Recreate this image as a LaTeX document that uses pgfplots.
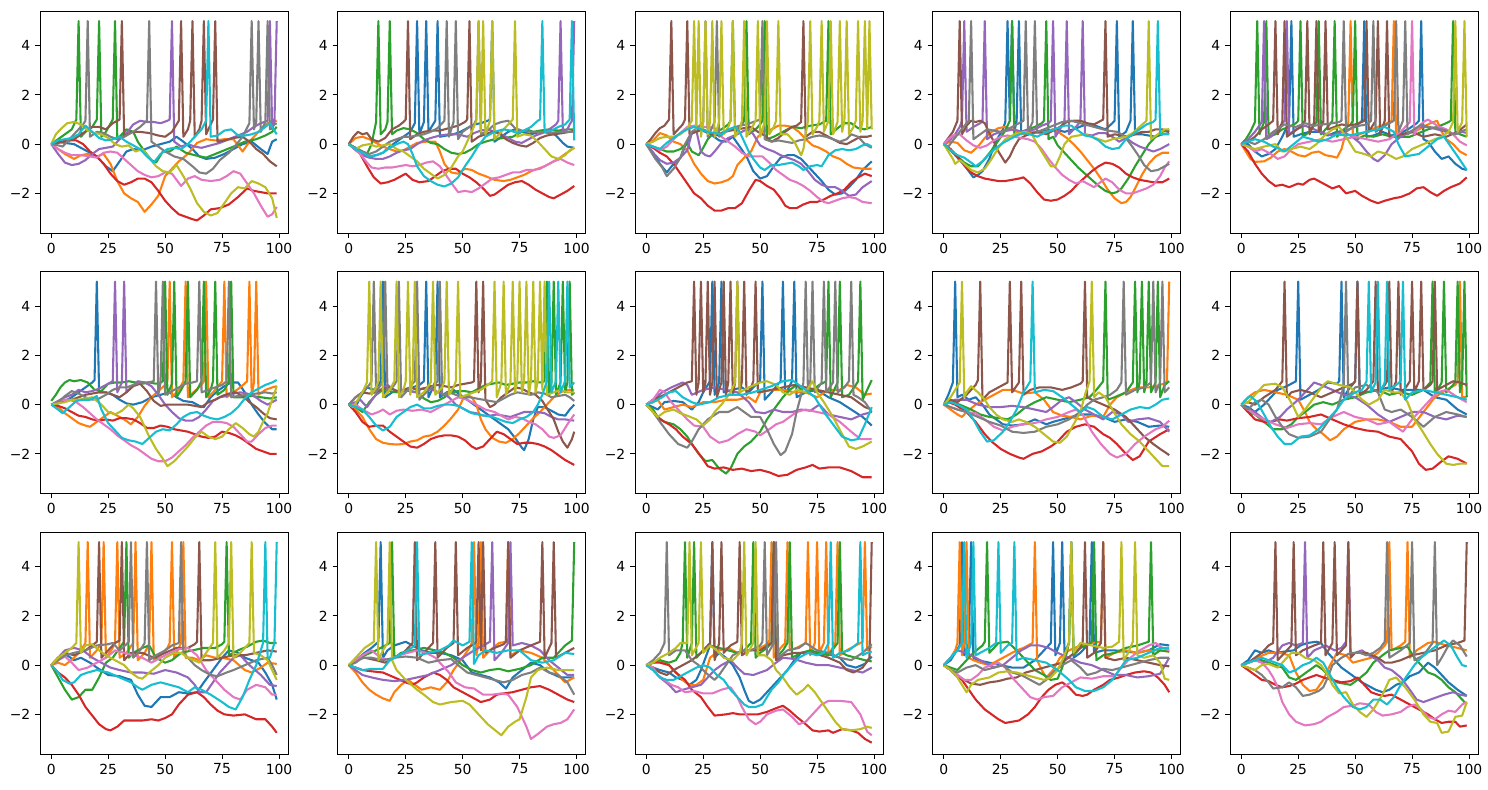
\documentclass[border=0pt]{standalone}
\usepackage{fontspec}
\setmainfont{DejaVu Sans}
\usepackage{pgfplots}
\pgfplotsset{compat=1.18}

\definecolor{C0}{HTML}{1F77B4}
\definecolor{C1}{HTML}{FF7F0E}
\definecolor{C2}{HTML}{2CA02C}
\definecolor{C3}{HTML}{D62728}
\definecolor{C4}{HTML}{9467BD}
\definecolor{C5}{HTML}{8C564B}
\definecolor{C6}{HTML}{E377C2}
\definecolor{C7}{HTML}{7F7F7F}
\definecolor{C8}{HTML}{BCBD22}
\definecolor{C9}{HTML}{17BECF}

\pgfplotsset{
  panel/.style={
    anchor=north west,
    scale only axis,
    width=178.56pt, height=159.84pt,
    xmin=-4.95, xmax=103.95, ymin=-3.61, ymax=5.41,
    xtick={0,25,50,75,100}, xticklabels={0,25,50,75,100},
    ytick={-2,0,2,4}, yticklabels={−2,0,2,4},
    tick align=outside, tick pos=left,
    major tick length=3.5pt,
    tick style={black, line width=0.6pt},
    axis line style={black, line width=0.55pt},
    tick label style={font=\fontsize{10}{12}\selectfont},
    every axis plot/.append style={line width=1.5pt, line join=round, mark=none},
  }
}

\begin{document}
\begin{tikzpicture}
\useasboundingbox (0,0) rectangle (1071.36pt,568.8pt);

% ---------------- row 1, panel 1 ----------------
\begin{axis}[panel, at={(28.8pt,560.88pt)}]
\addplot[C0] coordinates {(0,0)(3,0.1)(6,0.05)(10,0)(14,-0.2)(18,-0.4)(21,-0.6)(24,-0.9)(27,-1.1)(30,-0.7)(33,-0.3)(36,-0.2)(40,-0.25)(44,-0.1)(48,0)(52,0.1)(55,0.3)(58,0.1)(62,-0.2)(65,-0.5)(68,-0.6)(72,-0.55)(76,-0.4)(80,-0.2)(84,0)(88,0.1)(92,-0.2)(95,-0.4)(97,0.1)(99,0.2)};
\addplot[C1] coordinates {(0,0)(3,-0.2)(6,-0.4)(10,-0.6)(13,-0.45)(16,-0.4)(20,-0.5)(23,-0.4)(26,-0.8)(29,-1.5)(32,-2.0)(35,-2.2)(38,-2.35)(41,-2.75)(44,-2.45)(47,-2.1)(50,-1.3)(53,-1.0)(56,-0.7)(60,-0.4)(64,0.05)(68,0.2)(72,0.15)(76,0.2)(80,0.2)(84,-0.3)(87,0.1)(91,0.5)(95,0.85)(99,0.95)};
\addplot[C2] coordinates {(0,0)(3,0.2)(6,0.4)(9,0.6)(11,1.0)(12,5)(13,0.3)(15,0.5)(18,0.7)(20,1.0)(21,5)(22,0.3)(24,0.5)(27,1.0)(28,5)(29,0.2)(31,0.4)(33,0.6)(36,0.5)(38,0.1)(41,-0.3)(44,-0.65)(46,-0.75)(49,-0.3)(52,-0.3)(55,-0.1)(59,-0.35)(63,-0.45)(68,-0.55)(72,-0.4)(76,-0.25)(80,-0.1)(85,0.1)(90,0.2)(94,0.35)(97,0.5)(99,0.7)};
\addplot[C3] coordinates {(0,0)(4,0.1)(8,0.15)(11,0.15)(14,0)(17,-0.3)(20,-0.5)(23,-0.8)(26,-1.2)(29,-1.5)(32,-1.65)(35,-1.55)(38,-1.4)(41,-1.4)(44,-1.55)(47,-1.9)(50,-2.3)(53,-2.6)(56,-2.85)(59,-2.95)(62,-3.05)(64,-3.1)(67,-2.9)(70,-2.65)(74,-2.6)(78,-2.45)(82,-2.15)(86,-1.8)(89,-1.9)(92,-1.95)(95,-2.0)(99,-2.0)};
\addplot[C4] coordinates {(0,0)(3,-0.4)(6,-0.75)(9,-0.85)(12,-0.8)(15,-0.65)(18,-0.4)(21,-0.2)(24,-0.15)(27,-0.1)(30,0.2)(33,0.45)(36,0.8)(39,0.95)(42,0.9)(45,0.9)(48,0.85)(51,0.95)(52,1.0)(53,5)(54,0.1)(57,-0.1)(60,0)(63,-0.1)(66,-0.15)(70,-0.05)(74,0.05)(78,0.2)(82,0.35)(86,0.5)(89,0.7)(92,0.85)(95,0.95)(96,5)(97,0.6)(98,0.9)(99,5)};
\addplot[C5] coordinates {(0,0)(3,0.05)(6,0.1)(10,0.2)(14,0.45)(18,0.7)(21,0.7)(24,0.6)(27,0.85)(30,1.0)(31,5)(32,0.3)(35,0.5)(39,0.5)(43,0.45)(47,0.35)(50,0.3)(53,0.5)(56,0.95)(57,5)(58,0.3)(60,0.6)(61,0.95)(62,5)(63,0.3)(65,0.6)(66,0.95)(67,5)(68,0.4)(70,0.8)(71,1.0)(72,5)(73,0.1)(76,0.15)(80,0.25)(84,0.3)(87,0.1)(90,-0.2)(93,-0.4)(96,-0.7)(99,-0.9)};
\addplot[C6] coordinates {(0,0)(3,-0.2)(6,-0.35)(9,-0.45)(13,-0.45)(17,-0.5)(20,-0.55)(23,-0.35)(26,-0.3)(29,-0.35)(32,-0.6)(35,-0.85)(38,-1.1)(41,-1.25)(44,-1.35)(47,-1.3)(50,-1.15)(53,-1.2)(55,-1.45)(57,-1.7)(60,-1.4)(63,-1.3)(66,-1.45)(70,-1.5)(74,-1.45)(77,-1.3)(80,-1.1)(83,-1.2)(86,-1.6)(89,-2.0)(92,-2.5)(95,-2.95)(97,-2.85)(99,-2.55)};
\addplot[C7] coordinates {(0,0)(3,-0.05)(5,-0.1)(8,0.2)(11,0.5)(14,0.8)(15,0.95)(16,5)(17,0.3)(20,0.5)(23,0.45)(26,0.3)(29,0.2)(32,0.3)(36,0.5)(39,0.7)(42,0.95)(43,5)(44,0.1)(47,-0.1)(50,-0.3)(54,-0.5)(58,-0.6)(62,-0.9)(65,-1.15)(68,-1.2)(71,-1.0)(74,-0.65)(78,-0.35)(81,-0.05)(84,0.3)(87,0.85)(88,5)(89,0.6)(90,0.9)(91,5)(92,0.5)(94,0.9)(95,5)(96,0.6)(98,0.8)(99,0.85)};
\addplot[C8] coordinates {(0,0)(2,0.4)(4,0.6)(7,0.85)(10,0.9)(13,0.8)(16,0.55)(19,0.45)(22,0.4)(25,0.25)(28,0)(31,-0.1)(34,-0.05)(37,-0.3)(40,-0.2)(43,-0.55)(46,-0.9)(49,-1.1)(52,-1.15)(55,-0.85)(58,-1.3)(61,-1.8)(64,-2.4)(67,-2.75)(70,-2.9)(73,-2.8)(76,-2.4)(79,-2.0)(82,-1.75)(85,-1.8)(88,-1.5)(91,-1.6)(94,-1.75)(97,-2.2)(99,-3.0)};
\addplot[C9] coordinates {(0,0)(3,0.15)(6,0.2)(9,0.25)(12,0.4)(15,0.75)(18,0.5)(21,0.25)(24,0.15)(27,0.2)(30,0.3)(33,0.1)(36,-0.05)(39,-0.2)(42,-0.5)(45,-0.75)(48,-0.4)(51,-0.2)(54,-0.15)(57,-0.2)(60,0)(63,0.3)(66,0.6)(68,0.95)(69,5)(70,0.3)(73,0.35)(76,0.55)(79,0.6)(82,0.35)(85,0.35)(88,0.4)(91,0.5)(94,0.7)(96,0.85)(99,0.4)};
\end{axis}

% ---------------- row 1, panel 2 ----------------
\begin{axis}[panel, at={(243pt,560.88pt)}]
\addplot[C0] coordinates {(0,0)(3,-0.2)(6,-0.35)(9,-0.5)(12,-0.45)(15,-0.35)(18,-0.1)(21,0.1)(24,0.3)(27,0.5)(29,0.85)(30,5)(31,0.4)(33,0.9)(34,5)(35,0.5)(37,0.8)(38,0.95)(39,5)(40,0.3)(43,0.35)(46,0.4)(49,0.5)(52,0.65)(55,0.8)(58,0.85)(61,0.95)(62,1.0)(63,5)(64,0.1)(67,0.3)(70,0.5)(73,0.6)(76,0.5)(80,0.4)(84,0.5)(88,0.5)(91,0.35)(94,0.05)(96,-0.1)(99,-0.15)};
\addplot[C1] coordinates {(0,0)(3,0.25)(6,0.3)(9,0.2)(12,0.05)(15,-0.1)(18,-0.2)(21,-0.3)(24,-0.25)(27,-0.1)(30,0.05)(34,0.1)(38,0.1)(40,-0.3)(42,-0.8)(45,-1.15)(48,-1.2)(51,-1.0)(54,-1.05)(57,-1.2)(60,-1.3)(64,-1.45)(68,-1.5)(71,-1.45)(74,-1.35)(77,-1.25)(80,-1.1)(83,-1.0)(86,-0.9)(89,-0.75)(92,-0.6)(95,-0.4)(99,-0.15)};
\addplot[C2] coordinates {(0,0)(3,-0.15)(6,-0.3)(8,-0.4)(10,0)(12,0.9)(13,5)(14,0.4)(16,0.6)(17,0.9)(18,5)(19,0.4)(21,0.55)(24,0.65)(27,0.6)(30,0.45)(33,0.2)(36,0.05)(39,0)(42,-0.2)(45,-0.35)(48,-0.4)(51,-0.35)(54,-0.2)(57,0)(60,0.1)(64,0.2)(68,0.25)(72,0.3)(75,0.45)(78,0.6)(81,0.5)(84,0.55)(88,0.6)(92,0.55)(96,0.6)(99,0.6)};
\addplot[C3] coordinates {(0,0)(3,-0.2)(5,-0.4)(8,-0.9)(11,-1.35)(14,-1.6)(17,-1.55)(20,-1.45)(23,-1.3)(25,-1.2)(28,-1.45)(31,-1.55)(35,-1.5)(38,-1.3)(41,-1.1)(44,-1.0)(47,-1.0)(50,-1.2)(53,-1.35)(56,-1.55)(59,-1.8)(62,-2.1)(64,-2.05)(67,-1.85)(70,-1.65)(73,-1.55)(76,-1.5)(79,-1.65)(82,-1.85)(85,-2.0)(88,-2.15)(90,-2.2)(93,-2.05)(96,-1.9)(99,-1.7)};
\addplot[C4] coordinates {(0,0)(3,-0.25)(6,-0.45)(9,-0.55)(12,-0.6)(15,-0.6)(18,-0.5)(21,-0.35)(24,-0.25)(27,-0.2)(30,0)(33,0.15)(36,0.25)(40,0.35)(44,0.4)(48,0.4)(52,0.3)(55,0.45)(58,0.55)(61,0.6)(64,0.5)(67,0.4)(70,0.25)(73,0.1)(76,0.05)(79,0.2)(82,0.35)(85,0.45)(88,0.6)(91,0.8)(92,0.95)(93,5)(94,0.5)(96,0.6)(97,0.8)(98,0.95)(99,5)};
\addplot[C5] coordinates {(0,0)(2,0.3)(4,0.5)(6,0.4)(8,0.45)(10,0.2)(13,0.1)(16,0.25)(19,0.6)(22,0.75)(24,0.9)(25,1.0)(26,5)(27,0.2)(30,0.4)(33,0.5)(36,0.55)(40,0.55)(44,0.65)(48,0.75)(51,0.9)(52,1.0)(53,5)(54,0.1)(57,0.3)(60,0.4)(63,0.5)(66,0.45)(69,0.2)(72,0.05)(75,-0.05)(78,-0.1)(81,0.05)(84,0.25)(87,0.35)(90,0.4)(94,0.45)(97,0.5)(99,0.55)};
\addplot[C6] coordinates {(0,0)(3,-0.2)(5,-0.4)(8,-0.75)(10,-0.95)(13,-1.0)(16,-0.95)(19,-0.95)(22,-0.9)(25,-0.85)(28,-0.9)(31,-0.85)(34,-0.75)(37,-0.7)(40,-0.9)(43,-1.3)(46,-1.7)(48,-1.95)(51,-1.9)(54,-1.95)(57,-1.8)(60,-1.6)(63,-1.4)(66,-1.35)(69,-1.25)(72,-1.15)(75,-1.15)(78,-1.05)(81,-1.05)(84,-1.0)(87,-0.85)(90,-0.7)(93,-0.6)(96,-0.75)(99,-0.85)};
\addplot[C7] coordinates {(0,0)(3,-0.15)(6,-0.3)(9,-0.4)(12,-0.3)(15,-0.1)(18,0.1)(21,0.2)(24,0.3)(27,0.3)(30,0.35)(33,0.4)(36,0.5)(39,0.65)(42,0.95)(43,5)(44,0.3)(46,0.9)(47,5)(48,0.2)(50,0.5)(53,0.7)(55,0.8)(56,1.0)(57,5)(58,0.4)(61,0.55)(64,0.8)(67,0.9)(70,0.95)(73,0.65)(76,0.55)(80,0.5)(84,0.5)(88,0.45)(92,0.5)(96,0.5)(99,0.5)};
\addplot[C8] coordinates {(0,0)(3,-0.2)(6,-0.05)(9,0)(12,-0.1)(15,-0.05)(18,0)(21,-0.2)(24,-0.3)(27,-0.5)(30,-0.7)(33,-1.0)(36,-1.2)(39,-1.4)(42,-1.25)(45,-0.95)(48,-0.5)(50,-0.3)(52,0.1)(54,0.5)(56,0.95)(57,5)(58,0.5)(59,5)(60,0.4)(62,0.95)(63,5)(64,0.2)(66,0.4)(69,0.7)(72,1.0)(73,5)(74,0.3)(77,0.4)(80,0.35)(83,0.1)(86,-0.2)(89,-0.5)(92,-0.6)(95,-0.45)(97,-0.25)(99,-0.15)};
\addplot[C9] coordinates {(0,0)(3,-0.2)(6,-0.35)(9,-0.5)(12,-0.45)(15,-0.35)(18,-0.15)(21,0)(24,0.1)(26,0)(28,-0.4)(30,-0.9)(33,-1.3)(36,-1.5)(39,-1.65)(42,-1.72)(45,-1.6)(48,-1.35)(51,-0.9)(54,-0.5)(57,-0.05)(60,0.3)(64,0.5)(68,0.6)(71,0.55)(74,0.45)(77,0.55)(80,0.7)(83,0.95)(84,1.0)(85,5)(86,0.5)(89,0.55)(92,0.7)(95,0.8)(97,1.0)(98,5)(99,0.15)};
\end{axis}

% ---------------- row 1, panel 3 ----------------
\begin{axis}[panel, at={(457.2pt,560.88pt)}]
\addplot[C0] coordinates {(0,0)(3,-0.35)(6,-0.8)(9,-1.15)(12,-0.8)(15,-0.55)(17,-0.1)(20,0.45)(23,0.6)(26,0.5)(29,0.35)(32,0.15)(35,0.1)(38,0.3)(41,-0.1)(44,-0.5)(47,-1.1)(50,-1.4)(53,-1.3)(56,-0.9)(59,-0.55)(62,-0.45)(65,-0.45)(68,-0.6)(71,-0.9)(74,-1.2)(77,-1.5)(80,-1.85)(83,-2.05)(86,-2.0)(89,-1.75)(92,-1.45)(95,-1.05)(99,-0.7)};
\addplot[C1] coordinates {(0,0)(3,0.15)(6,0.45)(9,0.35)(12,0.1)(15,0)(18,-0.25)(21,-0.8)(24,-1.2)(27,-1.5)(30,-1.6)(33,-1.55)(36,-1.45)(38,-1.3)(40,-0.85)(43,-0.55)(46,-0.3)(49,0.3)(52,0.55)(55,0.6)(58,0.75)(61,0.75)(64,0.7)(67,0.5)(70,0.2)(73,-0.05)(76,-0.15)(79,-0.3)(82,-0.5)(85,-0.6)(88,-0.8)(91,-0.95)(95,-1.0)(99,-1.0)};
\addplot[C2] coordinates {(0,0)(3,-0.1)(6,-0.2)(9,-0.3)(12,-0.3)(15,-0.2)(18,0.05)(20,-0.3)(23,-0.45)(25,-0.15)(27,0.2)(30,0.5)(33,0.6)(36,0.8)(37,0.95)(38,5)(39,0.5)(42,0.8)(43,0.95)(44,5)(45,0.4)(48,0.6)(50,0.8)(51,0.95)(52,5)(53,0.2)(56,0.3)(60,0.5)(64,0.7)(68,0.65)(72,0.75)(76,0.8)(79,0.95)(80,5)(81,0.4)(84,0.65)(87,0.85)(90,0.85)(93,0.65)(96,0.6)(99,0.7)};
\addplot[C3] coordinates {(0,0)(3,-0.15)(6,-0.35)(9,-0.5)(12,-0.8)(15,-1.2)(18,-1.6)(21,-2.0)(24,-2.2)(27,-2.5)(30,-2.7)(33,-2.7)(36,-2.6)(39,-2.6)(42,-2.4)(45,-1.9)(48,-1.45)(50,-1.5)(53,-1.7)(56,-1.85)(59,-2.2)(61,-2.5)(63,-2.6)(66,-2.6)(69,-2.45)(72,-2.35)(75,-2.35)(78,-2.25)(81,-2.1)(84,-2.0)(87,-1.85)(90,-1.55)(93,-1.35)(96,-1.2)(99,-1.3)};
\addplot[C4] coordinates {(0,0)(3,-0.35)(6,-0.65)(9,-0.8)(12,-0.75)(15,-0.55)(18,-0.25)(20,0.45)(22,0.55)(24,-0.3)(26,-0.45)(28,-0.5)(30,-0.3)(33,0.05)(36,0.25)(40,0.4)(43,0.55)(45,0.6)(47,0.4)(50,-0.05)(53,-0.2)(56,-0.3)(59,-0.45)(62,-0.55)(65,-0.65)(68,-0.8)(71,-1.1)(74,-1.45)(77,-1.65)(80,-1.75)(83,-1.75)(86,-1.9)(89,-2.1)(92,-2.05)(95,-1.75)(99,-1.5)};
\addplot[C5] coordinates {(0,0)(2,0.2)(4,0.45)(6,0.65)(8,0.75)(10,1.0)(11,5)(12,0.4)(14,0.6)(16,0.8)(17,1.0)(18,5)(19,0.4)(22,0.5)(25,0.6)(28,0.45)(31,0.35)(34,0.5)(37,0.55)(40,0.6)(43,0.65)(46,0.7)(49,0.5)(52,0.35)(55,0.1)(58,0.25)(61,0.5)(64,0.7)(66,0.75)(68,0.9)(69,5)(70,0.3)(73,0.5)(76,0.5)(79,0.35)(82,0.2)(85,0.05)(88,0)(91,0.15)(94,0.3)(97,0.3)(99,0.35)};
\addplot[C6] coordinates {(0,0)(3,-0.1)(6,-0.25)(9,-0.1)(12,0.2)(15,0.45)(18,0.7)(21,0.75)(24,0.7)(27,0.7)(30,0.65)(33,0.3)(36,0.1)(39,-0.1)(42,-0.35)(45,-0.5)(48,-0.5)(51,-0.5)(54,-0.75)(57,-1.05)(60,-1.25)(63,-1.45)(66,-1.55)(69,-1.7)(72,-1.9)(75,-2.15)(78,-2.35)(80,-2.4)(83,-2.3)(86,-2.2)(89,-2.15)(92,-2.2)(95,-2.35)(99,-2.4)};
\addplot[C7] coordinates {(0,0)(2,-0.3)(4,-0.6)(7,-0.95)(9,-1.3)(12,-1.0)(15,-0.55)(17,0)(20,0.5)(23,0.7)(25,0.9)(26,5)(27,0.3)(29,0.7)(30,0.9)(31,5)(32,0.3)(35,0.5)(38,0.65)(41,0.75)(44,0.8)(47,0.9)(50,1.0)(51,5)(52,0.2)(55,0.1)(58,0.15)(61,0.1)(64,0.05)(67,0.15)(70,0.2)(73,0.3)(76,0.35)(79,0.3)(82,0.2)(85,0.1)(88,0.2)(90,0.4)(93,0.3)(96,0)(99,-0.15)};
\addplot[C8] coordinates {(0,0)(3,0.1)(6,0.25)(9,0.3)(12,0.3)(15,0.4)(18,0.65)(20,0.95)(21,5)(22,0.6)(23,5)(24,0.3)(25,0.9)(26,5)(27,0.4)(28,0.9)(29,5)(30,0.3)(32,0.9)(33,5)(34,0.4)(36,0.7)(37,0.95)(38,5)(39,0.3)(41,0.6)(42,0.95)(43,5)(44,0.3)(46,0.6)(48,0.95)(49,5)(50,0.3)(52,0.9)(53,5)(54,0.4)(56,0.7)(57,0.95)(58,5)(59,0.4)(62,0.4)(65,0.1)(68,-0.45)(69,-0.2)(70,0.4)(71,0.95)(72,5)(73,0.4)(75,0.7)(76,0.95)(77,5)(78,0.5)(80,0.95)(81,5)(82,0.4)(84,0.9)(85,5)(86,0.5)(87,0.95)(88,5)(89,0.4)(91,0.7)(92,0.95)(93,5)(94,0.5)(95,0.95)(96,5)(97,0.6)(98,5)(99,0.6)};
\addplot[C9] coordinates {(0,0)(3,-0.1)(6,-0.2)(9,0.05)(12,0.25)(15,0.45)(18,0.6)(21,0.7)(24,0.6)(27,0.5)(30,0.45)(33,0.4)(36,0.6)(39,0.7)(41,0.5)(43,0.1)(45,-0.3)(47,-0.6)(50,-0.95)(52,-1.05)(55,-0.85)(58,-0.85)(61,-0.8)(64,-0.75)(67,-0.9)(69,-1.05)(72,-0.9)(75,-0.85)(77,-0.9)(80,-0.45)(83,-0.25)(86,-0.2)(89,-0.25)(92,-0.2)(95,-0.05)(97,0)(99,-0.1)};
\end{axis}

% ---------------- row 1, panel 4 ----------------
\begin{axis}[panel, at={(671.4pt,560.88pt)}]
\addplot[C0] coordinates {(0,0)(3,-0.25)(6,-0.55)(8,-0.75)(11,-1.1)(13,-1.35)(15,-1.25)(17,-1.1)(20,-0.6)(22,-0.1)(24,0.3)(26,0.6)(27,0.9)(28,5)(29,0.95)(30,5)(31,0.5)(32,0.95)(33,5)(34,0.4)(37,0.5)(41,0.5)(45,0.55)(49,0.6)(53,0.5)(57,0.6)(61,0.75)(65,0.8)(68,0.7)(71,0.6)(74,0.85)(75,0.95)(76,5)(77,0.3)(80,0.5)(82,0.95)(83,5)(84,0.4)(87,0.4)(90,0.35)(93,0.3)(96,0.4)(99,0.45)};
\addplot[C1] coordinates {(0,0)(3,0.1)(6,0.05)(9,-0.25)(12,-0.35)(15,-0.1)(18,0.25)(21,0.5)(24,0.65)(27,0.7)(30,0.6)(33,0.45)(36,0.4)(39,0.5)(42,0.45)(45,0.5)(48,0.6)(51,0.45)(54,0.25)(57,0)(60,-0.3)(63,-0.65)(66,-1.0)(69,-1.4)(72,-1.85)(75,-2.2)(78,-2.4)(80,-2.35)(82,-2.15)(84,-1.8)(87,-1.25)(90,-0.8)(93,-0.5)(96,-0.35)(99,-0.35)};
\addplot[C2] coordinates {(0,0)(3,-0.25)(6,-0.5)(9,-0.75)(12,-0.9)(15,-0.9)(18,-0.6)(21,-0.25)(24,0.15)(27,0.55)(29,0.95)(30,5)(31,0.3)(34,0.5)(37,0.6)(40,0.7)(43,0.85)(44,0.95)(45,5)(46,0.2)(48,0.3)(50,-0.05)(53,-0.35)(56,-0.65)(59,-0.95)(62,-1.2)(65,-1.45)(68,-1.7)(71,-1.9)(74,-2.0)(76,-1.95)(78,-1.8)(81,-1.4)(84,-0.9)(87,-0.45)(90,0)(93,0.3)(96,0.5)(99,0.6)};
\addplot[C3] coordinates {(0,0)(3,-0.2)(6,-0.5)(9,-0.85)(12,-1.15)(15,-1.3)(18,-1.4)(21,-1.45)(24,-1.5)(27,-1.5)(30,-1.45)(33,-1.4)(35,-1.35)(38,-1.6)(41,-1.95)(44,-2.25)(47,-2.3)(50,-2.25)(53,-2.1)(56,-1.9)(59,-1.6)(62,-1.35)(65,-1.1)(68,-0.9)(71,-0.75)(74,-0.8)(77,-0.95)(80,-1.2)(83,-1.35)(86,-1.45)(89,-1.5)(92,-1.55)(96,-1.55)(99,-1.4)};
\addplot[C4] coordinates {(0,0)(3,0.2)(5,0.4)(7,0.7)(8,0.95)(9,5)(10,0.5)(13,0.7)(16,0.85)(17,0.95)(18,5)(19,0.2)(22,0.4)(25,0.5)(28,0.55)(31,0.6)(34,0.5)(37,0.55)(40,0.6)(43,0.75)(46,0.85)(47,0.95)(48,5)(49,0.3)(51,0.6)(53,0.95)(54,5)(55,0.4)(57,0.6)(59,0.8)(60,0.95)(61,5)(62,0.4)(65,0.35)(68,0.45)(71,0.45)(74,0.3)(77,0.1)(80,0.25)(83,0.05)(86,-0.1)(89,-0.2)(92,-0.3)(95,-0.2)(99,0)};
\addplot[C5] coordinates {(0,0)(2,0.25)(4,0.5)(6,0.95)(7,5)(8,0.4)(10,0.75)(12,0.95)(14,0.9)(16,0.95)(18,0.85)(20,0.45)(22,0.1)(24,-0.3)(26,-0.6)(27,-0.75)(29,-0.5)(31,-0.1)(33,0.2)(36,0.35)(39,0.45)(42,0.5)(45,0.4)(48,0.55)(51,0.7)(54,0.9)(57,0.95)(60,0.95)(63,0.85)(66,0.8)(68,0.9)(70,1.0)(71,5)(72,0.3)(75,0.4)(78,0.35)(81,0.3)(84,0.4)(87,0.5)(90,0.5)(93,0.6)(96,0.6)(99,0.5)};
\addplot[C6] coordinates {(0,0)(2,0.2)(4,0.35)(7,0.4)(10,0.15)(13,-0.05)(16,-0.15)(19,-0.05)(22,0.15)(25,0.3)(28,0.35)(31,0.3)(34,0.25)(37,0.2)(40,0.1)(43,-0.2)(46,-0.6)(49,-0.95)(52,-1.25)(55,-1.45)(58,-1.6)(61,-1.5)(64,-1.65)(66,-1.75)(68,-1.6)(71,-1.4)(74,-1.55)(77,-1.85)(80,-2.0)(83,-2.0)(86,-1.9)(89,-1.8)(92,-1.65)(95,-1.3)(97,-0.95)(99,-0.7)};
\addplot[C7] coordinates {(0,0)(2,-0.1)(4,0.15)(7,0.5)(10,0.85)(11,0.95)(12,5)(13,0.2)(16,0.4)(19,0.6)(22,0.55)(25,0.5)(28,0.6)(31,0.75)(34,0.9)(35,0.95)(36,5)(37,0.5)(39,0.9)(40,5)(41,0.5)(44,0.6)(48,0.75)(52,0.9)(56,0.95)(60,0.85)(64,0.75)(68,0.65)(72,0.55)(76,0.5)(79,0.35)(82,0)(85,-0.4)(88,-0.85)(91,-1.1)(94,-1.05)(97,-0.9)(99,-0.8)};
\addplot[C8] coordinates {(0,0)(2,-0.3)(4,-0.6)(5,-0.8)(7,-0.65)(9,-0.8)(12,-1.05)(15,-1.15)(18,-1.0)(21,-0.6)(24,-0.15)(27,0.2)(30,0.35)(33,0.45)(36,0.5)(39,0.35)(41,0)(44,-0.45)(47,-0.9)(49,-0.9)(51,-0.5)(53,0)(56,0.3)(59,0.35)(62,0.4)(65,0.3)(68,0.2)(71,0.1)(74,0.2)(77,0.25)(80,0.3)(83,0.45)(86,0.7)(89,0.95)(90,5)(91,0.2)(94,0.4)(97,0.6)(99,0.6)};
\addplot[C9] coordinates {(0,0)(3,-0.25)(6,-0.45)(9,-0.55)(12,-0.75)(14,-0.9)(17,-0.7)(20,-0.4)(23,-0.15)(26,0.05)(29,0.2)(32,0.35)(35,0.45)(38,0.4)(41,0.3)(44,0.45)(47,0.55)(50,0.65)(53,0.75)(56,0.75)(59,0.55)(62,0.35)(65,0.3)(68,0.15)(71,-0.1)(74,-0.2)(77,-0.15)(80,0.2)(83,0.4)(86,0.6)(89,0.8)(92,0.9)(93,1.0)(94,5)(95,0.4)(97,0.4)(99,0.4)};
\end{axis}

% ---------------- row 1, panel 5 ----------------
\begin{axis}[panel, at={(885.6pt,560.88pt)}]
\addplot[C0] coordinates {(0,0)(3,0)(6,-0.3)(9,-0.5)(12,-0.4)(15,-0.2)(18,0.3)(21,0.9)(22,5)(23,0.3)(26,0.4)(30,0.5)(34,0.5)(38,0.35)(42,0.5)(46,0.55)(50,0.7)(53,0.95)(54,5)(55,0.3)(58,0.35)(62,0.5)(66,0.35)(70,0.45)(74,0.65)(77,0.85)(78,0.95)(79,5)(80,0.2)(82,0.1)(85,-0.3)(88,-0.6)(91,-0.5)(94,-0.8)(97,-1.0)(99,-1.05)};
\addplot[C1] coordinates {(0,0)(2,-0.3)(4,-0.6)(6,-0.72)(10,-0.7)(13,-0.55)(16,-0.3)(19,-0.2)(22,-0.3)(25,-0.45)(28,-0.5)(31,-0.35)(34,-0.3)(37,-0.45)(40,-0.5)(42,-0.55)(44,-0.2)(46,0.5)(47,0.9)(48,5)(49,0.3)(52,0.4)(56,0.55)(60,0.7)(63,0.8)(66,0.95)(67,5)(68,0.3)(72,0.4)(76,0.5)(80,0.7)(83,0.85)(86,0.95)(88,0.5)(90,0.2)(93,0)(96,-0.3)(99,-0.45)};
\addplot[C2] coordinates {(0,0)(2,0.2)(4,0.5)(6,0.9)(7,5)(8,0.4)(10,0.9)(11,5)(12,0.3)(15,0.4)(18,0.6)(21,0.7)(24,0.85)(25,0.95)(26,5)(27,0.3)(30,0.5)(33,0.9)(34,5)(35,0.4)(38,0.7)(40,0.95)(41,5)(42,0.3)(45,0.6)(48,0.8)(49,0.95)(50,5)(51,0.2)(54,0.35)(58,0.3)(62,0.4)(66,0.3)(70,0.3)(74,0.3)(78,0.45)(82,0.6)(86,0.7)(90,0.85)(92,0.95)(93,5)(94,0.5)(96,0.4)(99,0.3)};
\addplot[C3] coordinates {(0,0)(3,-0.3)(6,-0.8)(9,-1.2)(12,-1.5)(15,-1.7)(18,-1.65)(21,-1.75)(25,-1.6)(27,-1.65)(30,-1.45)(32,-1.4)(36,-1.6)(40,-1.8)(43,-1.7)(46,-2.0)(50,-1.9)(53,-2.1)(57,-2.3)(60,-2.4)(63,-2.3)(67,-2.2)(70,-2.15)(74,-2.0)(77,-1.8)(80,-1.75)(83,-1.95)(86,-2.1)(89,-1.9)(92,-1.75)(96,-1.6)(99,-1.35)};
\addplot[C4] coordinates {(0,0)(3,0.2)(6,0.5)(9,0.9)(10,5)(11,0.2)(13,0.3)(16,0.6)(19,0.95)(20,5)(21,0.4)(24,0.6)(28,0.75)(32,0.6)(36,0.45)(40,0.35)(44,0.5)(48,0.35)(52,0.05)(55,-0.3)(58,-0.6)(60,-0.7)(63,-0.45)(66,0)(70,0.3)(74,0.5)(78,0.7)(82,0.7)(86,0.6)(90,0.5)(94,0.4)(97,0.5)(99,0.45)};
\addplot[C5] coordinates {(0,0)(3,0.1)(6,0.3)(9,0.6)(12,0.8)(14,0.95)(15,5)(16,0.4)(18,0.9)(19,5)(20,0.3)(23,0.5)(26,0.7)(28,0.95)(29,5)(30,0.4)(32,0.9)(33,5)(34,0.5)(36,0.9)(37,5)(38,0.6)(41,0.7)(44,0.8)(47,0.75)(50,0.8)(53,0.9)(54,0.95)(55,5)(56,0.5)(59,0.95)(60,5)(61,0.4)(63,0.95)(64,5)(65,0.3)(70,0.4)(75,0.5)(80,0.3)(85,0.4)(90,0.3)(95,0.5)(99,0.8)};
\addplot[C6] coordinates {(0,0)(3,-0.1)(6,-0.3)(9,-0.2)(13,-0.4)(16,-0.6)(19,-0.5)(22,-0.2)(25,0)(30,0.1)(35,0.2)(40,0.1)(45,0.2)(50,0.3)(55,0.2)(60,0.1)(65,0.2)(70,0.5)(74,0.9)(75,5)(76,0.4)(78,0.7)(80,0.9)(82,1.0)(86,0.75)(90,0.6)(93,0.4)(96,0.1)(99,-0.05)};
\addplot[C7] coordinates {(0,0)(3,0.1)(6,0)(10,0.2)(14,0.5)(19,0.8)(24,0.7)(28,0.85)(32,0.75)(36,0.8)(40,0.85)(43,0.9)(44,0.95)(45,5)(46,0.5)(49,0.7)(52,0.75)(55,0.8)(57,0.95)(58,5)(59,0.5)(62,0.7)(65,0.85)(67,0.95)(68,5)(69,0.5)(71,0.95)(72,5)(73,0.4)(76,0.6)(79,0.8)(82,0.7)(86,0.65)(90,0.55)(93,0.4)(96,0.5)(99,0.6)};
\addplot[C8] coordinates {(0,0)(3,-0.1)(6,-0.2)(10,-0.1)(15,0)(18,-0.3)(22,-0.2)(26,-0.1)(30,-0.2)(33,0)(36,0.3)(40,0.6)(43,0.7)(46,0.3)(50,-0.3)(54,-0.4)(57,-0.5)(60,-0.3)(64,-0.4)(68,-0.6)(71,-0.5)(75,-0.2)(80,0)(85,0.2)(88,0.3)(91,0.5)(93,0.9)(94,5)(95,0.5)(97,0.9)(98,5)(99,0.3)};
\addplot[C9] coordinates {(0,0)(3,0.1)(6,0.2)(10,0.1)(14,-0.1)(17,-0.2)(19,-0.3)(23,0)(27,0.3)(31,0.2)(34,0.1)(38,0.2)(42,0.4)(46,0.35)(50,0.4)(55,0.5)(60,0.6)(63,0.7)(67,0.5)(69,0)(72,-0.5)(75,-0.45)(78,-0.4)(82,-0.1)(86,0.2)(89,0.3)(92,-0.1)(95,-0.5)(99,-1.05)};
\end{axis}

% ---------------- row 2, panel 1 ----------------
\begin{axis}[panel, at={(28.8pt,373.32pt)}]
\addplot[C0] coordinates {(0,0)(3,0.05)(6,0.15)(9,0.3)(12,0.5)(15,0.7)(18,0.9)(19,1.0)(20,5)(21,0.5)(24,0.5)(27,0.4)(30,0.2)(33,0.05)(36,0)(40,0.1)(44,0.3)(48,0.4)(52,0.5)(55,0.3)(58,0.15)(62,0.1)(65,-0.05)(67,-0.1)(70,0.3)(73,0.55)(76,0.75)(79,0.9)(82,0.9)(85,0.5)(88,0)(91,-0.4)(94,-0.75)(97,-1.0)(99,-1.0)};
\addplot[C1] coordinates {(0,0)(3,-0.1)(6,-0.35)(9,-0.55)(12,-0.75)(15,-0.85)(17,-0.9)(20,-0.7)(23,-0.5)(26,-0.3)(29,-0.45)(32,-0.6)(35,-0.8)(38,-0.5)(41,-0.05)(44,0.3)(47,0.55)(50,0.8)(51,0.95)(52,5)(53,0.3)(56,0.6)(58,0.95)(59,5)(60,0.3)(63,0.55)(66,0.8)(67,0.95)(68,5)(69,0.3)(72,0.6)(75,0.95)(76,5)(77,0.3)(80,0.5)(83,0.7)(86,0.95)(87,5)(88,0.4)(89,0.9)(90,5)(91,0.4)(94,0.6)(97,0.7)(99,0.75)};
\addplot[C2] coordinates {(0,0.15)(2,0.4)(4,0.7)(6,0.9)(8,1.0)(10,0.95)(13,1.0)(16,0.9)(19,0.6)(22,0.55)(25,0.85)(28,0.9)(31,0.9)(34,0.95)(37,0.9)(40,0.85)(43,0.9)(46,0.85)(48,0.9)(49,0.95)(50,5)(51,0.4)(53,0.85)(54,5)(55,0.3)(57,0.6)(59,0.95)(60,5)(61,0.3)(64,0.6)(66,0.95)(67,5)(68,0.3)(70,0.6)(71,0.95)(72,5)(73,0.4)(76,0.6)(78,0.95)(79,5)(80,0.3)(84,0.3)(88,0.35)(92,0.3)(96,0.25)(99,0.3)};
\addplot[C3] coordinates {(0,0)(3,-0.05)(6,-0.15)(9,-0.3)(12,-0.45)(15,-0.5)(18,-0.6)(21,-0.65)(24,-0.6)(27,-0.65)(30,-0.55)(33,-0.55)(36,-0.6)(39,-0.75)(42,-0.95)(45,-0.95)(48,-0.85)(51,-0.9)(54,-1.0)(57,-1.05)(60,-1.1)(63,-1.2)(66,-1.3)(69,-1.35)(72,-1.3)(75,-1.1)(78,-1.15)(81,-1.25)(84,-1.4)(87,-1.6)(90,-1.8)(93,-1.9)(96,-2.0)(99,-2.0)};
\addplot[C4] coordinates {(0,0)(3,0.15)(6,0.3)(9,0.4)(12,0.6)(15,0.5)(18,0.55)(21,0.65)(24,0.8)(26,0.9)(27,0.95)(28,5)(29,0.5)(31,0.9)(32,5)(33,0.5)(35,0.7)(38,0.95)(41,0.9)(44,0.75)(47,0.4)(50,0)(53,-0.3)(56,-0.55)(59,-0.65)(62,-0.65)(65,-0.5)(68,-0.2)(71,0.15)(74,0.3)(77,0.35)(80,0.45)(83,0.5)(86,0.45)(89,0.35)(92,0.15)(95,0)(97,0.1)(99,0.2)};
\addplot[C5] coordinates {(0,0)(3,0.1)(6,0.15)(9,0.2)(12,0.3)(15,0.4)(18,0.45)(21,0.5)(24,0.5)(27,0.4)(30,0.3)(33,0.5)(36,0.75)(39,0.85)(42,0.55)(45,0.15)(48,-0.05)(51,0)(54,0)(57,0)(60,0)(63,-0.05)(66,-0.1)(69,0.1)(72,0.2)(75,0.35)(78,0.45)(81,0.5)(84,0.35)(87,0.1)(90,-0.1)(93,-0.35)(96,-0.55)(99,-0.6)};
\addplot[C6] coordinates {(0,0)(3,0.1)(5,0.2)(8,0.2)(11,0.1)(14,-0.1)(17,-0.35)(20,-0.6)(23,-0.8)(26,-1.0)(29,-1.25)(32,-1.45)(35,-1.65)(38,-1.8)(41,-2.0)(44,-2.2)(47,-2.3)(50,-2.3)(53,-2.15)(56,-1.9)(59,-1.65)(62,-1.35)(65,-1.1)(68,-0.85)(71,-0.7)(74,-0.7)(77,-0.75)(80,-0.9)(83,-1.2)(86,-1.5)(88,-1.5)(91,-1.2)(94,-0.95)(97,-0.85)(99,-0.85)};
\addplot[C7] coordinates {(0,0)(3,0.1)(6,0.35)(9,0.55)(12,0.45)(15,0.3)(18,0.2)(21,0.25)(24,0.4)(27,0.6)(30,0.7)(33,0.7)(36,0.8)(39,0.9)(42,0.9)(45,0.95)(46,5)(47,0.4)(48,0.9)(49,5)(50,0.4)(53,0.55)(56,0.7)(59,0.85)(62,0.9)(64,0.95)(65,5)(66,0.5)(69,0.6)(72,0.7)(75,0.8)(77,0.95)(78,5)(79,0.3)(82,0.35)(86,0.4)(90,0.45)(94,0.5)(97,0.45)(99,0.5)};
\addplot[C8] coordinates {(0,0)(3,0.05)(6,0.1)(9,0.2)(12,0.2)(15,0.25)(18,0.3)(20,0.15)(22,0)(25,-0.3)(28,-0.4)(31,-0.25)(34,0)(36,-0.15)(39,-0.5)(41,-0.9)(43,-1.3)(46,-1.8)(49,-2.2)(51,-2.5)(54,-2.3)(57,-2.0)(60,-1.7)(63,-1.35)(66,-1.1)(69,-1.3)(72,-1.4)(75,-1.3)(78,-1.0)(81,-0.75)(84,-0.95)(87,-1.2)(89,-1.3)(91,-1.1)(93,-0.7)(95,-0.35)(97,0.2)(99,0.75)};
\addplot[C9] coordinates {(0,0)(3,-0.2)(5,-0.35)(8,-0.1)(11,0.15)(14,0.2)(17,0.2)(20,0.35)(22,-0.2)(25,-0.75)(28,-1.05)(31,-1.35)(34,-1.45)(37,-1.5)(40,-1.6)(43,-1.35)(46,-1.1)(49,-1.0)(52,-1.05)(55,-0.8)(58,-0.5)(61,-0.35)(64,-0.3)(67,-0.45)(70,-0.55)(73,-0.6)(76,-0.5)(79,-0.35)(82,-0.1)(85,0.25)(88,0.5)(91,0.65)(94,0.8)(97,0.9)(99,1.0)};
\end{axis}

% ---------------- row 2, panel 2 ----------------
\begin{axis}[panel, at={(243pt,373.32pt)}]
\addplot[C0] coordinates {(0,0)(3,-0.1)(5,0.3)(8,0.7)(11,0.6)(13,0.8)(14,0.95)(15,5)(16,0.3)(19,0.5)(22,0.55)(25,0.6)(28,0.7)(31,0.8)(33,0.95)(34,5)(35,0.3)(37,0.7)(38,0.95)(39,5)(40,0.3)(43,0.5)(46,0.6)(49,0.4)(52,0.2)(55,0)(58,-0.2)(61,-0.4)(64,-0.6)(67,-0.8)(70,-1.0)(73,-1.35)(76,-1.75)(77,-1.85)(79,-1.4)(81,-0.6)(83,-0.1)(86,-0.1)(89,-0.25)(92,-0.4)(95,-0.45)(97,-0.2)(99,0)};
\addplot[C1] coordinates {(0,0)(3,-0.2)(6,-0.5)(9,-1.0)(12,-1.4)(15,-1.55)(18,-1.6)(21,-1.62)(24,-1.6)(27,-1.5)(30,-1.45)(33,-1.3)(36,-1.25)(39,-1.1)(42,-0.85)(45,-0.55)(48,-0.2)(50,0.2)(52,0.4)(54,0.3)(56,0)(58,-0.6)(60,-1.0)(63,-1.35)(66,-1.5)(69,-1.55)(72,-1.4)(75,-1.15)(78,-0.85)(81,-0.55)(84,-0.3)(87,0)(90,0.3)(93,0.5)(96,0.6)(99,0.6)};
\addplot[C2] coordinates {(0,0)(3,-0.1)(6,-0.3)(9,0.1)(12,0.4)(15,0.6)(18,0.55)(21,0.5)(24,0.6)(27,0.55)(30,0.5)(33,0.25)(36,0.1)(39,0.15)(42,0.3)(45,0.5)(48,0.55)(51,0.55)(54,0.5)(57,0.65)(60,0.8)(63,0.85)(66,0.9)(69,0.8)(72,0.85)(75,0.9)(78,0.9)(81,0.95)(84,0.9)(86,0.95)(87,5)(88,0.4)(89,0.9)(90,5)(91,0.4)(93,0.9)(94,5)(95,0.5)(96,0.9)(97,5)(98,0.4)(99,0.5)};
\addplot[C3] coordinates {(0,0)(3,-0.3)(6,-0.7)(9,-0.9)(12,-0.85)(15,-0.85)(18,-1.1)(21,-1.3)(24,-1.5)(27,-1.7)(30,-1.75)(33,-1.6)(36,-1.4)(39,-1.3)(42,-1.25)(45,-1.25)(48,-1.3)(51,-1.45)(54,-1.7)(56,-1.8)(59,-1.7)(62,-1.4)(65,-1.1)(68,-1.2)(71,-1.4)(74,-1.6)(77,-1.55)(80,-1.55)(83,-1.6)(86,-1.7)(89,-1.85)(92,-2.05)(95,-2.25)(97,-2.35)(99,-2.45)};
\addplot[C4] coordinates {(0,0)(3,0.1)(5,0.2)(8,-0.1)(11,0.3)(14,0.6)(17,0.8)(20,0.6)(23,0.5)(26,0.6)(29,0.5)(32,0.65)(35,0.7)(38,0.55)(41,0.45)(44,0.3)(47,0)(50,-0.15)(53,-0.3)(56,-0.35)(59,-0.45)(62,-0.45)(65,-0.4)(68,-0.45)(71,-0.5)(74,-0.4)(77,-0.3)(80,-0.3)(83,-0.3)(86,-0.35)(89,-0.5)(92,-0.6)(95,-0.6)(99,-0.65)};
\addplot[C5] coordinates {(0,0)(3,0.3)(6,0.5)(9,0.45)(12,0.5)(15,0.65)(18,0.7)(21,0.55)(24,0.6)(27,0.7)(30,0.6)(33,0.65)(36,0.75)(39,0.8)(42,0.75)(45,0.7)(48,0.8)(51,0.85)(54,0.9)(55,0.95)(56,5)(57,0.5)(58,0.95)(59,5)(60,0.2)(62,-0.1)(64,0)(67,0.3)(70,0.5)(73,0.7)(76,0.65)(79,0.5)(82,0.4)(85,0.15)(88,-0.3)(90,-0.6)(92,-1.1)(94,-1.5)(96,-1.75)(98,-1.4)(99,-1.1)};
\addplot[C6] coordinates {(0,0)(3,0)(6,-0.2)(10,-0.4)(13,-0.3)(15,-0.2)(18,-0.4)(21,-0.25)(24,-0.2)(28,-0.25)(32,-0.2)(36,-0.3)(40,-0.1)(44,0.1)(48,0.3)(52,0.2)(56,0)(60,-0.2)(64,-0.3)(67,-0.45)(70,-0.6)(73,-0.5)(76,-0.55)(79,-0.7)(82,-0.8)(85,-1.0)(88,-1.3)(90,-1.35)(93,-1.25)(96,-0.8)(99,-0.4)};
\addplot[C7] coordinates {(0,0)(3,0.3)(6,0.5)(9,0.8)(10,0.95)(11,5)(12,0.5)(14,0.8)(15,0.95)(16,5)(17,0.5)(20,0.8)(21,0.95)(22,5)(23,0.3)(26,0.6)(28,0.85)(29,0.95)(30,5)(31,0.2)(34,0.5)(37,0.75)(39,0.95)(40,5)(41,0.4)(44,0.5)(47,0.4)(50,0.3)(53,0.3)(56,0.25)(59,0.2)(62,0.15)(65,0.1)(68,0.25)(71,0.4)(74,0.5)(77,0.45)(80,0.4)(83,0.5)(86,0.45)(89,0.3)(92,0.35)(95,0.4)(97,0.3)(99,0.15)};
\addplot[C8] coordinates {(0,0)(2,-0.1)(4,0.2)(6,0.5)(8,0.9)(9,5)(10,0.4)(12,0.7)(13,0.95)(14,5)(15,0.3)(18,0.6)(20,0.95)(21,5)(22,0.3)(24,0.6)(25,0.95)(26,5)(27,0.4)(28,0.95)(29,5)(30,0.3)(33,0.5)(36,0.9)(37,5)(38,0.4)(41,0.7)(42,0.95)(43,5)(44,0.4)(46,0.7)(47,0.95)(48,5)(49,0.3)(52,0.4)(55,0.5)(58,0.6)(61,0.8)(63,0.95)(64,5)(65,0.3)(67,0.9)(68,5)(69,0.4)(71,0.9)(72,5)(73,0.5)(74,0.95)(75,5)(76,0.5)(77,0.95)(78,5)(79,0.4)(80,0.95)(81,5)(82,0.5)(83,0.95)(84,5)(85,0.6)(86,5)(87,0.4)(90,0.5)(93,0.6)(96,0.5)(99,0.5)};
\addplot[C9] coordinates {(0,0)(3,-0.1)(6,-0.2)(9,-0.5)(12,-0.85)(15,-1.05)(18,-0.9)(21,-0.5)(24,-0.3)(27,-0.1)(30,0)(33,-0.15)(36,-0.15)(39,-0.05)(42,0)(45,0)(48,-0.05)(51,-0.2)(54,-0.35)(57,-0.4)(60,-0.45)(63,-0.5)(66,-0.6)(69,-0.7)(72,-0.75)(75,-0.6)(78,-0.5)(81,-0.3)(83,0)(85,0.4)(87,0.95)(88,5)(89,0.5)(91,0.95)(92,5)(93,0.5)(95,0.95)(96,5)(97,0.7)(99,0.9)};
\end{axis}

% ---------------- row 2, panel 3 ----------------
\begin{axis}[panel, at={(457.2pt,373.32pt)}]
\addplot[C0] coordinates {(0,0)(3,-0.1)(5,-0.2)(8,0.1)(12,0.15)(16,0.1)(20,-0.2)(23,0.1)(25,0.5)(27,0.8)(28,0.95)(29,5)(30,0.4)(32,0.9)(33,5)(34,0.5)(38,0.6)(42,0.7)(45,0.5)(48,0.8)(50,0.95)(51,5)(52,0.2)(55,0.5)(58,0.85)(59,0.95)(60,5)(61,0.4)(64,0.95)(65,5)(66,0.3)(70,0.5)(75,0.6)(80,0.3)(85,0.1)(90,-0.2)(95,-0.5)(99,-0.85)};
\addplot[C1] coordinates {(0,0)(3,0.1)(5,0.2)(8,-0.2)(12,-0.1)(16,0)(20,-0.1)(25,0.1)(30,0.1)(35,0.2)(40,0.2)(45,0.3)(48,0.1)(50,0.5)(55,0.6)(60,0.6)(65,0.5)(70,0.5)(75,0.3)(80,0.6)(85,0.6)(88,0.8)(92,0.7)(96,0.4)(99,0.45)};
\addplot[C2] coordinates {(0,0)(3,-0.2)(5,-0.5)(8,-0.7)(12,-0.8)(15,-1.0)(18,-1.3)(20,-1.6)(23,-2.0)(26,-2.3)(29,-2.25)(32,-2.6)(35,-2.8)(37,-2.6)(40,-2.0)(43,-1.7)(46,-1.5)(50,-1.1)(53,-0.6)(56,-0.2)(60,0.3)(63,0.6)(66,0.8)(69,0.5)(73,0.6)(76,0.8)(79,0.95)(80,5)(81,0.3)(84,0.9)(85,5)(86,0.3)(89,0.4)(92,0.8)(93,0.95)(94,5)(95,0.2)(97,0.6)(99,1.0)};
\addplot[C3] coordinates {(0,0)(3,-0.3)(6,-0.6)(10,-0.8)(13,-1.0)(16,-1.3)(20,-1.6)(24,-2.1)(27,-2.5)(30,-2.6)(34,-2.55)(38,-2.65)(42,-2.6)(46,-2.7)(50,-2.65)(54,-2.75)(58,-2.9)(62,-2.85)(66,-2.65)(70,-2.55)(73,-2.45)(76,-2.6)(80,-2.55)(85,-2.55)(90,-2.7)(95,-2.95)(99,-2.95)};
\addplot[C4] coordinates {(0,0)(3,0.2)(7,0.5)(11,0.7)(16,0.9)(18,0.8)(20,0.4)(25,0.6)(30,0.7)(35,0.6)(40,0.5)(45,0.1)(48,-0.3)(52,-0.35)(56,-0.2)(60,-0.3)(64,-0.3)(68,-0.2)(72,-0.25)(76,0)(80,-0.4)(85,-0.5)(90,-0.6)(95,-0.4)(99,-0.3)};
\addplot[C5] coordinates {(0,0)(3,0.2)(8,0.4)(12,0.6)(16,0.8)(18,0.9)(20,0.95)(21,5)(22,0.4)(23,0.9)(24,5)(25,0.5)(26,0.9)(27,5)(28,0.4)(29,0.9)(30,5)(31,0.3)(33,0.9)(34,5)(35,0.4)(36,0.9)(37,5)(38,0.4)(39,0.9)(40,5)(41,0.5)(42,0.95)(43,5)(44,0.4)(46,0.7)(47,0.95)(48,5)(49,0.5)(52,0.55)(55,0.6)(60,0.7)(65,0.8)(70,0.7)(75,0.6)(80,0.5)(85,0.4)(90,0.3)(93,0.1)(96,-0.1)(99,-0.2)};
\addplot[C6] coordinates {(0,0)(3,0.2)(6,0.6)(8,0.5)(11,0.1)(15,-0.3)(18,-0.6)(21,-0.85)(25,-0.9)(28,-1.3)(32,-1.55)(36,-1.45)(40,-1.2)(44,-1.0)(48,-1.1)(50,-1.25)(54,-1.0)(57,-0.8)(60,-0.7)(63,-0.5)(66,-0.3)(70,-0.2)(75,-0.3)(80,-0.4)(85,-0.7)(90,-1.1)(94,-1.4)(99,-1.4)};
\addplot[C7] coordinates {(0,0)(3,-0.3)(6,-0.7)(10,-1.2)(14,-1.6)(18,-1.75)(20,-1.5)(23,-1.0)(27,-0.6)(32,-0.3)(36,-0.3)(40,-0.1)(43,-0.3)(46,-0.5)(50,-0.5)(53,-1.0)(56,-1.6)(59,-2.05)(61,-1.9)(64,-1.2)(66,-0.3)(68,0.4)(69,0.9)(70,5)(71,0.5)(72,0.9)(73,5)(74,0.5)(77,0.9)(78,5)(79,0.5)(82,0.9)(83,5)(84,0.5)(87,0.7)(89,0.95)(90,5)(91,0.4)(93,0.3)(96,0.1)(99,-0.3)};
\addplot[C8] coordinates {(0,0)(3,-0.3)(5,-0.5)(8,-0.3)(12,-0.2)(15,-0.35)(18,-0.45)(22,-0.6)(25,-0.85)(28,-0.6)(30,-0.3)(33,0)(37,0.5)(39,0.9)(40,5)(41,0.5)(45,0.7)(50,0.9)(53,0.95)(57,0.8)(60,0.5)(63,0.4)(66,0.6)(70,0.5)(73,0.95)(75,0.5)(78,0.1)(82,-0.5)(86,-1.2)(89,-1.7)(92,-1.8)(95,-1.7)(99,-1.5)};
\addplot[C9] coordinates {(0,0)(3,0.1)(7,0.3)(10,0.5)(13,0.55)(16,0.3)(20,0.1)(23,0)(28,0.1)(32,0.3)(37,0.4)(42,0.4)(47,0.5)(50,0.6)(55,0.75)(60,0.95)(64,1.0)(67,0.8)(70,0.6)(74,0.3)(78,-0.3)(82,-0.8)(86,-1.3)(90,-1.45)(93,-1.4)(96,-0.8)(99,-0.1)};
\end{axis}

% ---------------- row 2, panel 4 ----------------
\begin{axis}[panel, at={(671.4pt,373.32pt)}]
\addplot[C0] coordinates {(0,0)(2,0.4)(4,0.9)(5,5)(6,0.3)(8,0.4)(11,0.2)(14,0.3)(17,0)(20,-0.4)(23,-0.6)(26,-0.8)(30,-0.85)(35,-0.8)(40,-0.6)(45,-0.8)(48,-0.7)(52,-0.6)(56,-0.5)(60,-0.4)(65,-0.4)(70,-0.5)(75,-0.7)(80,-0.6)(85,-0.7)(90,-0.9)(95,-0.85)(99,-0.9)};
\addplot[C1] coordinates {(0,0)(3,-0.2)(6,-0.4)(8,-0.5)(10,-0.3)(14,0)(18,0.2)(22,0.4)(26,0.6)(30,0.6)(35,0.45)(40,0.5)(44,0.2)(48,-0.3)(52,-0.45)(56,-0.5)(60,-0.6)(65,-0.45)(70,-0.5)(73,0)(76,0.3)(80,0.5)(85,0.7)(90,0.7)(95,0.8)(98,0.9)(99,5)};
\addplot[C2] coordinates {(0,0)(3,0.1)(7,0)(12,-0.2)(16,-0.4)(20,-0.5)(25,-0.55)(28,-0.6)(32,-0.4)(36,-0.1)(40,0.1)(45,0.3)(50,0.2)(55,0.1)(60,0.2)(64,0.3)(67,0.6)(70,0.95)(71,5)(72,0.2)(75,0.3)(80,0.5)(83,0.9)(84,5)(85,0.5)(86,0.9)(87,5)(88,0.5)(89,0.9)(90,5)(91,0.5)(93,0.9)(94,5)(95,0.3)(97,0.8)(99,0.95)};
\addplot[C3] coordinates {(0,0)(2,0.1)(5,0)(10,-0.3)(14,-0.7)(18,-1.2)(21,-1.5)(25,-1.8)(29,-2.0)(33,-2.15)(35,-2.2)(39,-2.0)(43,-1.9)(47,-1.7)(50,-1.5)(54,-1.1)(58,-0.9)(62,-0.8)(66,-0.9)(70,-1.2)(73,-1.35)(76,-1.6)(80,-2.0)(83,-2.25)(86,-2.1)(90,-1.5)(95,-1.2)(99,-1.0)};
\addplot[C4] coordinates {(0,0)(5,0.2)(10,0.2)(15,0)(20,-0.1)(25,-0.1)(30,-0.05)(35,-0.1)(40,-0.2)(45,-0.3)(48,-0.1)(52,0.2)(55,0.3)(58,0.1)(62,-0.2)(66,-0.4)(70,-0.6)(74,-0.3)(78,-0.4)(81,-0.7)(85,-0.6)(90,-0.55)(95,-0.7)(99,-1.1)};
\addplot[C5] coordinates {(0,0)(3,0.2)(6,0.1)(10,0.4)(14,0.8)(15,1.0)(16,5)(17,0.2)(20,0.5)(24,0.7)(28,0.9)(29,5)(30,0.5)(33,0.9)(34,5)(35,0.4)(38,0.6)(42,0.7)(47,0.7)(52,0.6)(56,0.7)(60,0.85)(61,0.95)(62,5)(63,0.3)(65,0.2)(70,0)(75,-0.2)(80,-0.5)(85,-1.0)(88,-1.3)(92,-1.6)(95,-1.8)(99,-2.05)};
\addplot[C6] coordinates {(0,0)(3,-0.1)(6,-0.2)(10,-0.3)(14,-0.35)(18,-0.6)(22,-0.9)(26,-1.05)(30,-0.9)(35,-0.8)(40,-0.75)(45,-0.6)(50,-0.5)(55,-0.3)(58,-0.2)(61,-0.4)(65,-1.1)(69,-1.6)(73,-2.0)(76,-2.15)(80,-2.0)(84,-1.6)(88,-1.3)(93,-1.0)(96,-0.9)(99,-0.65)};
\addplot[C7] coordinates {(0,0)(3,-0.1)(6,-0.2)(10,-0.3)(15,-0.5)(20,-0.7)(25,-0.85)(30,-1.1)(35,-1.15)(40,-1.1)(45,-0.9)(50,-0.8)(55,-0.6)(60,-0.3)(63,0)(66,0.2)(70,0.3)(73,0.4)(76,0.6)(78,0.9)(79,5)(80,0.4)(84,0.6)(88,0.7)(91,0.9)(92,5)(93,0.5)(95,0.9)(96,5)(97,0.5)(99,0.7)};
\addplot[C8] coordinates {(0,0)(3,0.3)(5,0.6)(7,0.9)(8,5)(9,0.3)(10,0.5)(12,0.75)(15,0.5)(18,0.2)(20,-0.1)(23,-0.4)(26,-0.6)(30,-0.7)(33,-0.6)(36,-0.7)(40,-0.9)(44,-1.2)(48,-1.5)(51,-1.55)(54,-1.3)(57,-0.8)(60,-0.3)(62,0.4)(64,0.95)(65,5)(66,0.3)(68,0.5)(71,0.3)(74,-0.2)(78,-0.8)(82,-1.2)(86,-1.5)(90,-1.9)(94,-2.3)(96,-2.5)(99,-2.5)};
\addplot[C9] coordinates {(0,0)(3,0.1)(6,0)(10,-0.2)(13,-0.6)(16,-1.1)(19,-1.5)(22,-1.45)(26,-1.1)(29,-0.7)(32,-0.2)(35,0.5)(38,0.95)(39,5)(40,0.5)(44,0.6)(48,0.55)(52,0.3)(56,0)(60,-0.3)(63,-0.1)(66,-0.2)(70,-0.5)(74,-0.6)(78,-0.4)(82,-0.2)(86,-0.1)(90,-0.15)(93,0)(96,0.2)(99,0.25)};
\end{axis}

% ---------------- row 2, panel 5 ----------------
\begin{axis}[panel, at={(885.6pt,373.32pt)}]
\addplot[C0] coordinates {(0,0)(3,-0.1)(6,-0.3)(10,0)(13,0.3)(16,0.6)(20,0.75)(23,0.9)(24,0.95)(25,5)(26,0.2)(30,0.4)(34,0.6)(38,0.9)(42,0.85)(43,0.95)(44,5)(45,0.3)(47,0.6)(50,0.95)(51,5)(52,0.5)(55,0.5)(60,0.6)(65,0.7)(70,0.6)(75,0.6)(80,0.6)(85,0.3)(90,0.2)(95,-0.2)(99,-0.4)};
\addplot[C1] coordinates {(0,0)(3,0.3)(6,0.5)(10,0.6)(15,0.5)(20,0.4)(25,0.2)(28,-0.3)(30,-0.7)(33,-1.0)(36,-1.2)(39,-1.45)(42,-1.3)(45,-1.0)(50,-0.7)(55,-0.6)(60,-0.6)(65,-0.7)(70,-0.9)(75,-0.9)(80,-0.3)(85,0.3)(90,0.6)(94,0.8)(95,0.95)(96,5)(97,0.3)(99,0.3)};
\addplot[C2] coordinates {(0,0)(3,-0.3)(6,-0.4)(10,-0.7)(14,-1.0)(18,-1.0)(22,-0.8)(25,-0.5)(28,-0.3)(32,0)(36,0.1)(40,0)(45,0.2)(50,0.3)(55,0.5)(60,0.6)(65,0.4)(70,0.5)(75,0.4)(80,0.6)(83,0.9)(84,5)(85,0.4)(88,0.9)(89,5)(90,0.5)(93,0.8)(94,0.95)(95,5)(96,0.5)(97,0.9)(98,5)(99,0.3)};
\addplot[C3] coordinates {(0,0)(3,-0.3)(6,-0.6)(10,-0.7)(13,-0.7)(17,-0.6)(20,-0.65)(25,-0.55)(30,-0.5)(35,-0.4)(40,-0.6)(45,-0.8)(50,-0.95)(55,-1.05)(60,-1.1)(65,-1.3)(70,-1.4)(75,-1.9)(78,-2.4)(81,-2.65)(84,-2.6)(88,-2.3)(91,-2.1)(95,-2.2)(99,-2.4)};
\addplot[C4] coordinates {(0,0)(3,-0.2)(6,-0.3)(10,-0.6)(13,-0.7)(17,-0.5)(20,-0.2)(25,0.2)(28,0.5)(32,0.9)(35,0.8)(40,0.6)(45,0.4)(50,0.3)(55,0)(60,-0.4)(65,-0.7)(70,-0.5)(75,-0.3)(80,-0.3)(85,-0.5)(90,-0.6)(95,-0.45)(99,-0.5)};
\addplot[C5] coordinates {(0,0)(3,0.1)(6,0)(10,0.3)(15,0.6)(18,0.95)(19,5)(20,0.3)(22,0.5)(26,0.6)(30,0.5)(35,0.3)(40,0.5)(45,0.7)(49,0.85)(50,0.95)(51,5)(52,0.4)(55,0.6)(58,0.95)(59,5)(60,0.5)(63,0.8)(64,0.95)(65,5)(66,0.5)(68,0.95)(69,5)(70,0.4)(73,0.8)(74,0.95)(75,5)(76,0.5)(78,0.95)(79,5)(80,0.6)(83,0.8)(84,0.95)(85,5)(86,0.6)(90,0.8)(93,0.95)(96,0.9)(99,0.8)};
\addplot[C6] coordinates {(0,0)(3,-0.2)(6,-0.4)(10,-0.6)(15,-0.8)(20,-0.95)(25,-0.8)(30,-0.75)(35,-0.8)(40,-0.5)(45,-0.3)(50,-0.5)(55,-0.6)(60,-0.8)(65,-0.7)(68,-0.9)(71,-1.1)(75,-0.6)(80,-0.1)(83,0.2)(86,0.5)(90,0.6)(95,0.3)(99,0.1)};
\addplot[C7] coordinates {(0,0)(3,-0.2)(6,0.1)(9,0.2)(12,0)(15,-0.5)(18,-0.9)(21,-1.2)(25,-1.35)(30,-1.3)(35,-1.1)(38,-0.7)(42,-0.2)(44,0.4)(45,0.8)(46,5)(47,0.3)(50,0.7)(55,0.8)(60,0.5)(63,-0.2)(66,-0.3)(70,-0.2)(75,-0.5)(80,-0.9)(85,-0.5)(90,-0.3)(95,-0.4)(99,-0.5)};
\addplot[C8] coordinates {(0,0)(3,0.1)(6,0.4)(10,0.8)(15,0.85)(18,0.7)(20,0.4)(23,-0.1)(25,-0.5)(28,-0.2)(32,0.3)(36,0.8)(38,0.95)(43,0.8)(48,0.7)(53,0.2)(56,0)(60,0.2)(63,0.6)(67,0.5)(70,0.5)(73,0.1)(76,-0.6)(79,-1.0)(83,-1.6)(86,-2.0)(90,-2.4)(93,-2.45)(96,-2.4)(99,-2.4)};
\addplot[C9] coordinates {(0,0)(2,0.2)(4,0.35)(7,0.1)(10,-0.4)(13,-0.9)(16,-1.3)(19,-1.6)(22,-1.6)(26,-1.3)(30,-1.25)(34,-1.0)(38,-0.6)(42,-0.2)(45,0.2)(50,0.5)(53,0.6)(55,0.95)(56,5)(57,0.5)(59,0.9)(60,5)(61,0.5)(63,0.9)(64,5)(65,0.6)(68,0.8)(70,0.95)(71,5)(72,0.2)(75,0.5)(80,0.6)(85,0.5)(90,0.4)(95,0.3)(99,0.2)};
\end{axis}

% ---------------- row 3, panel 1 ----------------
\begin{axis}[panel, at={(28.8pt,185.76pt)}]
\addplot[C0] coordinates {(0,0)(3,0.3)(7,0.4)(10,0.2)(13,0.3)(17,0.1)(20,-0.1)(25,-0.4)(30,-0.45)(35,-0.6)(38,-1.2)(41,-1.65)(44,-1.7)(48,-1.3)(52,-1.3)(56,-1.1)(60,-1.15)(64,-1.1)(67,-0.7)(71,-0.2)(75,0.3)(78,0.6)(82,0.5)(85,0.3)(88,0.2)(91,0.1)(94,-0.3)(97,-0.8)(99,-1.4)};
\addplot[C1] coordinates {(0,0)(3,0.1)(6,0)(10,0.3)(13,0.6)(15,0.9)(16,5)(17,0.3)(20,0.6)(22,0.9)(23,5)(24,0.3)(27,0.7)(28,0.95)(29,5)(30,0.3)(33,0.5)(36,0.9)(37,5)(38,0.2)(41,0.5)(43,0.85)(44,5)(45,0.2)(48,0.4)(51,0.7)(52,0.9)(53,5)(54,0.3)(57,0.9)(58,5)(59,0.3)(62,0.3)(65,0.2)(68,0.4)(72,0.3)(75,0.3)(80,0.2)(85,-0.2)(88,-0.3)(92,-0.1)(95,0.1)(99,0.05)};
\addplot[C2] coordinates {(0,0)(3,-0.5)(6,-1.0)(9,-1.4)(12,-1.3)(15,-1.0)(18,-1.0)(21,-0.5)(24,0.1)(27,0.3)(30,0.7)(32,0.95)(33,5)(34,0.3)(36,0.5)(40,0.7)(43,0.8)(46,0.3)(50,0.1)(53,0.2)(57,0.5)(62,0.6)(67,0.7)(72,0.7)(75,0.85)(76,0.95)(77,5)(78,0.4)(82,0.6)(86,0.75)(90,0.95)(93,1.0)(96,0.9)(99,0.9)};
\addplot[C3] coordinates {(0,0)(3,-0.3)(6,-0.5)(9,-0.8)(12,-1.2)(15,-1.7)(18,-2.05)(21,-2.4)(24,-2.6)(26,-2.65)(29,-2.5)(32,-2.25)(36,-2.25)(40,-2.25)(44,-2.2)(47,-2.25)(50,-2.15)(53,-2.0)(56,-1.6)(60,-1.2)(64,-1.1)(67,-1.3)(70,-1.6)(73,-1.85)(76,-2.0)(80,-2.05)(85,-2.0)(90,-2.2)(94,-2.2)(97,-2.5)(99,-2.75)};
\addplot[C4] coordinates {(0,0)(3,0.3)(6,0.6)(10,0.7)(14,0.6)(18,0.3)(22,0.1)(26,-0.1)(30,-0.2)(35,-0.3)(40,-0.3)(45,-0.35)(50,-0.2)(55,-0.3)(60,-0.5)(63,-0.8)(65,-1.1)(68,-1.1)(71,-0.7)(74,-0.3)(77,0)(80,0.3)(83,0.4)(87,0)(92,-0.4)(96,-0.8)(99,-0.85)};
\addplot[C5] coordinates {(0,0)(3,0.3)(6,0.5)(10,0.4)(15,0.6)(18,0.8)(20,0.95)(21,5)(22,0.3)(25,0.6)(28,0.9)(30,1.0)(31,5)(32,0.2)(35,0.5)(40,0.5)(45,0.3)(50,0.5)(55,0.7)(60,0.7)(63,0.85)(64,0.95)(65,5)(66,0.2)(70,0.2)(75,0.3)(80,0.4)(85,0.4)(90,0.5)(95,0.6)(99,0.55)};
\addplot[C6] coordinates {(0,0)(3,0.2)(6,0.35)(9,0.1)(12,-0.2)(16,-0.1)(20,0.1)(24,0.3)(28,0.6)(32,0.5)(36,0.4)(40,0.3)(44,0.1)(48,0.3)(52,0.5)(56,0.65)(60,0.7)(64,0.4)(68,-0.2)(72,-0.6)(76,-1.0)(80,-1.3)(83,-1.4)(86,-1.0)(90,-0.8)(94,-0.9)(97,-1.2)(99,-1.2)};
\addplot[C7] coordinates {(0,0)(3,0.2)(6,0.4)(10,0.5)(15,0.6)(20,0.8)(25,0.85)(27,0.9)(30,0.6)(33,0.85)(34,0.95)(35,5)(36,0.3)(39,0.6)(41,0.9)(42,5)(43,0.2)(46,0.4)(50,0.6)(53,0.8)(56,0.9)(57,5)(58,0.5)(60,0.3)(63,0)(66,-0.2)(70,-0.4)(73,-0.45)(77,-0.3)(80,-0.2)(85,0)(90,0.2)(95,0.3)(97,0)(99,-0.4)};
\addplot[C8] coordinates {(0,0)(3,0.3)(6,0.5)(9,0.7)(11,0.9)(12,5)(13,0.5)(15,0.8)(18,0.85)(21,0.6)(24,0.4)(28,0.2)(32,0)(35,-0.3)(38,-0.5)(40,-0.55)(43,-0.3)(47,0)(50,0.3)(54,0.5)(57,0.5)(60,0.3)(65,0.1)(68,0.5)(71,0.9)(72,5)(73,0.3)(76,0.6)(78,0.9)(79,5)(80,0.3)(83,0.5)(87,0.9)(88,5)(89,0.5)(92,0.4)(95,0.2)(97,-0.2)(99,-0.6)};
\addplot[C9] coordinates {(0,0)(3,-0.3)(5,-0.6)(8,-0.75)(10,-0.7)(13,-0.4)(16,-0.3)(20,-0.2)(25,-0.3)(30,-0.5)(35,-0.7)(38,-0.9)(40,-1.0)(44,-0.8)(48,-0.7)(52,-0.8)(56,-0.9)(60,-1.1)(63,-0.9)(66,-1.0)(70,-1.2)(75,-1.5)(78,-1.7)(81,-1.8)(84,-1.3)(87,-0.6)(90,0)(92,0.6)(93,0.9)(94,5)(95,0.3)(96,0.3)(98,0.9)(99,5)};
\end{axis}

% ---------------- row 3, panel 2 ----------------
\begin{axis}[panel, at={(243pt,185.76pt)}]
\addplot[C0] coordinates {(0,0)(3,0.2)(7,0.5)(10,0.7)(13,0.95)(14,5)(15,0.3)(17,0.6)(20,0.8)(25,0.95)(28,0.8)(32,0.6)(36,0.5)(40,0.5)(45,0.4)(50,0.2)(54,-0.3)(58,-0.4)(62,-0.5)(66,-0.7)(69,-0.95)(72,-0.5)(76,-0.2)(80,0.1)(84,0)(88,-0.3)(93,-0.5)(99,-0.5)};
\addplot[C1] coordinates {(0,0)(3,-0.3)(6,-0.7)(9,-1.0)(12,-1.2)(15,-1.35)(18,-1.45)(20,-1.1)(23,-0.8)(26,-0.6)(29,-0.8)(32,-1.0)(36,-0.9)(40,-1.0)(43,-0.7)(46,-0.2)(50,0.3)(53,0.7)(54,0.9)(55,5)(56,0.4)(57,0.9)(58,5)(59,0.3)(62,0.6)(66,0.9)(69,0.95)(70,5)(71,0.4)(75,0.6)(80,0.5)(85,0.3)(90,-0.2)(95,-0.7)(99,-0.5)};
\addplot[C2] coordinates {(0,0)(3,0.2)(7,0.4)(12,0.6)(16,0.8)(18,0.9)(19,5)(20,0.3)(23,0.5)(28,0.6)(33,0.7)(38,0.6)(42,0.5)(46,0.3)(50,0)(54,-0.2)(58,-0.3)(62,-0.2)(66,-0.15)(70,-0.25)(75,-0.15)(80,0)(85,0.3)(90,0.3)(95,0.8)(98,1.0)(99,5)};
\addplot[C3] coordinates {(0,0)(3,-0.1)(6,-0.2)(10,-0.25)(15,-0.3)(20,-0.5)(25,-0.7)(28,-0.8)(30,-0.7)(33,-0.5)(37,-0.3)(40,-0.4)(43,-0.6)(46,-0.9)(50,-1.1)(54,-1.3)(58,-1.5)(62,-1.4)(65,-1.2)(68,-1.15)(72,-1.1)(76,-1.0)(80,-0.9)(84,-0.85)(88,-1.0)(92,-1.2)(96,-1.4)(99,-1.5)};
\addplot[C4] coordinates {(0,0)(3,-0.2)(6,-0.4)(10,-0.5)(15,-0.6)(20,-0.65)(25,-0.6)(30,-0.5)(35,-0.4)(40,-0.2)(45,0)(50,0.3)(55,0.6)(59,0.8)(62,0.95)(63,5)(64,0.2)(67,0.5)(70,0.9)(71,5)(72,0.8)(76,0.9)(80,0.8)(84,0.6)(88,0.2)(92,-0.1)(96,-0.4)(99,-0.4)};
\addplot[C5] coordinates {(0,0)(3,0.2)(7,0.3)(12,0.2)(16,0.1)(20,0.3)(24,0.5)(27,0.8)(28,0.9)(29,5)(30,0.2)(33,0.5)(36,0.8)(37,0.9)(38,5)(39,0.3)(43,0.7)(46,0.9)(47,5)(48,0.4)(52,0.7)(55,0.85)(56,0.95)(57,5)(58,0.6)(59,5)(60,0.5)(64,0.7)(68,0.85)(69,0.95)(70,5)(71,0.3)(75,0.6)(80,0.8)(84,0.95)(85,5)(86,0.3)(89,0.9)(90,5)(91,0.3)(95,0.5)(99,0.7)};
\addplot[C6] coordinates {(0,0)(3,0.2)(6,0.4)(10,0.6)(14,0.3)(18,0.2)(22,0.4)(26,0.5)(30,0.6)(34,0.5)(38,0.3)(41,0)(44,-0.3)(47,-0.7)(51,-0.9)(55,-0.95)(59,-1.2)(63,-1.2)(67,-1.15)(70,-1.2)(74,-1.7)(78,-2.5)(80,-3.0)(83,-2.8)(87,-2.5)(90,-2.4)(93,-2.35)(96,-2.2)(99,-1.8)};
\addplot[C7] coordinates {(0,0)(3,0.1)(6,0.3)(10,0.3)(15,0.2)(20,0.3)(25,0.35)(30,0.3)(35,0.1)(40,0.2)(45,0.25)(48,0)(52,-0.3)(56,-0.4)(60,-0.5)(64,-0.6)(68,-0.7)(72,-0.6)(76,-0.4)(80,-0.3)(84,-0.1)(88,-0.3)(92,-0.4)(96,-0.7)(99,-1.2)};
\addplot[C8] coordinates {(0,0)(3,0.3)(7,0.7)(11,0.95)(12,5)(13,0.2)(15,0.6)(17,0.9)(18,5)(19,0.2)(21,-0.2)(25,-0.6)(30,-1.0)(33,-1.2)(37,-1.5)(40,-1.6)(45,-1.5)(50,-1.45)(53,-1.6)(57,-2.0)(61,-2.4)(65,-2.7)(67,-2.85)(70,-2.5)(73,-2.3)(75,-2.2)(78,-1.3)(80,-0.5)(83,-0.2)(87,-0.1)(92,-0.2)(96,-0.2)(99,-0.2)};
\addplot[C9] coordinates {(0,0)(3,-0.1)(6,-0.2)(10,-0.15)(15,-0.15)(18,0.2)(22,0.4)(26,0.6)(29,0.8)(30,5)(31,0.4)(35,0.5)(40,0.6)(44,0.8)(46,1.0)(50,0.8)(53,0.95)(54,5)(55,0.05)(57,0.4)(60,0.6)(65,0.5)(70,0.6)(75,0.6)(80,0.2)(85,0.1)(90,0.2)(95,0.5)(99,0.45)};
\end{axis}

% ---------------- row 3, panel 3 ----------------
\begin{axis}[panel, at={(457.2pt,185.76pt)}]
\addplot[C0] coordinates {(0,0)(3,-0.1)(6,-0.2)(10,-0.3)(13,-0.5)(16,-0.6)(19,-0.8)(22,-0.6)(24,-0.2)(26,0.3)(28,0.8)(29,5)(30,0.3)(32,0.5)(35,0.3)(38,0)(41,-0.5)(43,-1.0)(45,-1.45)(47,-1.55)(50,-1.4)(53,-1.1)(56,-0.8)(59,-0.5)(62,-0.2)(65,0.2)(68,0.5)(72,0.5)(76,0.45)(80,0.45)(85,0.3)(88,0)(92,-0.1)(96,0.05)(99,0.35)};
\addplot[C1] coordinates {(0,0)(3,0.1)(6,0.2)(10,0)(13,-0.3)(16,-0.6)(19,-0.8)(22,-0.8)(25,-0.6)(28,0.3)(32,0.6)(36,0.7)(40,0.5)(45,0.6)(50,0.7)(53,0.85)(54,0.95)(55,5)(56,0.3)(59,0.7)(61,0.9)(62,5)(63,0.6)(66,0.7)(70,0.9)(71,5)(72,0.4)(74,0.9)(75,5)(76,0.5)(78,0.9)(79,5)(80,0.4)(83,0.9)(84,5)(85,0.4)(88,0.6)(92,0.8)(95,0.95)(96,5)(97,0.6)(99,0.75)};
\addplot[C2] coordinates {(0,0)(3,0.1)(6,0.2)(10,0.1)(13,0.2)(15,0.5)(16,0.95)(17,5)(18,0.3)(20,0.9)(21,5)(22,0.3)(25,0.6)(28,0.8)(32,0.7)(36,0.6)(40,0.5)(43,0.6)(46,0.9)(47,5)(48,0.3)(50,0.5)(53,0.7)(55,0.9)(56,5)(57,0.3)(60,0.6)(62,0.9)(63,5)(64,0.3)(68,0.5)(72,0.6)(76,0.5)(80,0.4)(84,0.9)(85,5)(86,0.5)(88,0.4)(92,0.3)(96,0.2)(99,0.15)};
\addplot[C3] coordinates {(0,0)(3,0.1)(6,0.1)(10,0)(13,-0.3)(17,-0.6)(20,-1.0)(24,-1.3)(27,-1.7)(30,-2.05)(35,-2.0)(38,-1.95)(41,-2.0)(45,-2.0)(49,-2.0)(53,-1.9)(57,-1.75)(60,-1.65)(63,-1.85)(66,-2.1)(70,-2.4)(73,-2.65)(76,-2.7)(80,-2.65)(82,-2.75)(86,-2.6)(90,-2.65)(93,-2.75)(96,-3.0)(99,-3.15)};
\addplot[C4] coordinates {(0,0)(3,-0.2)(6,-0.5)(10,-0.8)(13,-1.1)(16,-1.0)(20,-0.9)(24,-0.8)(27,-0.5)(30,-0.2)(33,0)(37,0.2)(40,-0.1)(43,-0.35)(47,-0.4)(50,-0.3)(53,-0.2)(57,0.1)(60,0.3)(65,0.25)(70,0.1)(75,0)(80,0)(85,-0.1)(90,-0.2)(95,-0.3)(99,-0.1)};
\addplot[C5] coordinates {(0,0)(3,-0.1)(6,-0.3)(9,-0.4)(12,-0.2)(16,0)(20,0.2)(24,0.5)(28,0.9)(29,5)(30,0.2)(32,0.9)(33,5)(34,0.5)(37,0.8)(40,0.95)(41,5)(42,0.4)(45,0.6)(50,0.6)(55,0.9)(56,5)(57,0.2)(60,0.4)(65,0.5)(70,0.5)(75,0.45)(80,0.3)(85,0.1)(88,-0.2)(91,-0.3)(95,-0.1)(98,0.3)(99,5)};
\addplot[C6] coordinates {(0,0)(3,-0.1)(5,-0.4)(8,-0.6)(11,-0.8)(14,-0.9)(17,-1.1)(21,-1.05)(25,-1.15)(29,-1.15)(33,-1.0)(37,-0.9)(40,-1.3)(42,-1.7)(45,-2.2)(48,-2.4)(50,-2.3)(53,-2.0)(57,-1.85)(60,-1.8)(64,-2.1)(67,-2.4)(70,-2.3)(73,-2.0)(77,-1.6)(80,-1.45)(85,-1.45)(90,-1.5)(94,-2.0)(97,-2.7)(99,-2.85)};
\addplot[C7] coordinates {(0,0)(3,0.2)(6,0.5)(8,0.9)(9,5)(10,0.4)(13,0.6)(17,0.6)(20,0.2)(23,0)(26,-0.3)(30,-0.6)(32,-0.4)(35,0)(38,0.4)(42,0.6)(46,0.6)(50,0.8)(51,0.95)(52,5)(53,0.4)(56,0.9)(57,5)(58,0.3)(62,0.6)(67,0.7)(70,0.9)(75,0.6)(80,0.5)(85,0.3)(90,0.2)(95,0.5)(99,0.85)};
\addplot[C8] coordinates {(0,0)(3,0.1)(6,0.3)(10,0.5)(13,0.7)(15,0.9)(18,0.9)(19,5)(20,0.4)(23,0.9)(24,5)(25,0.5)(28,0.8)(31,0.6)(34,0.3)(38,0.2)(41,0.5)(42,0.9)(43,5)(44,0.4)(47,0.9)(48,5)(49,0.4)(52,0.4)(55,0.2)(57,-0.2)(60,-0.5)(63,-0.9)(66,-1.2)(69,-1.0)(71,-0.8)(74,-1.1)(77,-1.5)(80,-1.9)(83,-2.3)(86,-2.6)(90,-2.65)(94,-2.6)(97,-2.5)(99,-2.55)};
\addplot[C9] coordinates {(0,0)(3,-0.2)(6,-0.5)(9,-0.6)(12,-0.6)(15,-0.45)(18,-0.3)(20,-0.2)(22,-0.1)(25,0)(28,-0.1)(31,-0.4)(34,-0.6)(37,-1.0)(40,-1.3)(43,-1.6)(45,-1.7)(48,-1.7)(51,-1.6)(55,-1.0)(58,-0.7)(61,-0.3)(64,0)(67,0.3)(71,0.5)(75,0.4)(78,0.5)(80,0.9)(81,5)(82,0.3)(85,0.5)(89,0.6)(93,0.9)(94,5)(95,0.4)(97,0.5)(99,0.55)};
\end{axis}

% ---------------- row 3, panel 4 ----------------
\begin{axis}[panel, at={(671.4pt,185.76pt)}]
\addplot[C0] coordinates {(0,0)(3,0.2)(5,0.5)(7,0.8)(8,5)(9,0.4)(11,0.9)(12,5)(13,0.3)(15,0.2)(20,0.1)(25,0)(30,-0.1)(35,-0.1)(40,0.2)(44,0.6)(47,0.9)(48,5)(49,0.4)(51,0.9)(52,5)(53,0.5)(55,0.9)(56,5)(57,0.3)(60,0.5)(64,0.9)(65,5)(66,0.5)(70,0.6)(75,0.6)(80,0.55)(85,0.5)(90,0.6)(95,0.85)(99,0.8)};
\addplot[C1] coordinates {(0,0)(3,0.3)(5,0.6)(6,0.9)(7,5)(8,0.4)(9,0.9)(10,5)(11,0.3)(13,0.2)(16,0.1)(20,0)(24,0.2)(28,0.4)(32,0.6)(35,0.7)(39,0.9)(40,5)(41,0.2)(43,-0.2)(45,-0.5)(48,-0.2)(51,0.3)(55,0.6)(60,0.8)(65,0.9)(69,0.95)(70,5)(71,0.3)(75,0.5)(80,0.6)(85,0.5)(90,0.6)(95,0.6)(99,0.55)};
\addplot[C2] coordinates {(0,0)(3,-0.1)(6,-0.2)(9,0.1)(13,0.5)(17,0.8)(18,0.95)(19,5)(20,0.5)(21,0.6)(24,0.9)(28,0.95)(32,0.6)(36,0.2)(40,-0.2)(44,-0.4)(47,-0.6)(50,-0.55)(52,-0.1)(54,0.5)(55,0.95)(56,5)(57,0.4)(60,0.7)(63,0.8)(65,0.95)(66,5)(67,0.2)(70,0.4)(75,0.5)(80,0.7)(85,0.8)(90,0.95)(91,5)(92,0.4)(95,0.6)(99,0.55)};
\addplot[C3] coordinates {(0,0)(3,-0.2)(5,-0.4)(8,-0.6)(11,-1.0)(14,-1.4)(18,-1.8)(21,-2.0)(24,-2.2)(27,-2.35)(30,-2.3)(33,-2.25)(37,-2.0)(40,-1.7)(43,-1.3)(46,-1.0)(49,-0.8)(52,-0.7)(55,-0.9)(58,-1.2)(61,-1.25)(63,-1.2)(66,-1.0)(70,-0.8)(73,-0.6)(77,-0.5)(80,-0.4)(84,-0.3)(88,-0.25)(91,-0.3)(94,-0.5)(97,-0.8)(99,-1.1)};
\addplot[C4] coordinates {(0,0)(3,0.3)(6,0.6)(10,0.5)(14,0.3)(18,0.1)(22,-0.1)(26,0)(30,0.3)(34,0.6)(38,0.8)(42,0.8)(46,0.7)(50,0.5)(55,0.3)(60,0.1)(65,0)(70,-0.2)(75,-0.4)(80,-0.4)(85,-0.5)(90,-0.45)(95,-0.35)(99,0.3)};
\addplot[C5] coordinates {(0,0)(3,-0.2)(6,-0.4)(9,-0.6)(12,-0.75)(16,-0.8)(20,-0.7)(24,-0.65)(28,-0.55)(32,-0.5)(36,-0.3)(40,-0.2)(44,-0.1)(48,0)(52,0.1)(56,0.4)(60,0.7)(61,0.95)(62,5)(63,0.3)(66,0.5)(69,0.9)(70,5)(71,0.3)(75,0.2)(80,0.3)(85,0.2)(90,0.1)(95,0)(99,-0.05)};
\addplot[C6] coordinates {(0,0)(3,-0.2)(6,-0.4)(9,-0.6)(12,-0.6)(15,-0.4)(18,-0.1)(21,0)(24,0.1)(27,-0.1)(30,-0.5)(34,-0.9)(38,-1.3)(41,-1.4)(44,-1.3)(48,-1.25)(52,-0.9)(56,-0.7)(60,-0.5)(65,-0.55)(70,-0.45)(75,-0.45)(78,-0.1)(82,0.3)(86,0.6)(90,0.8)(93,0.9)(96,0.7)(99,0.6)};
\addplot[C7] coordinates {(0,0)(3,-0.2)(6,-0.3)(10,-0.1)(14,0)(18,-0.2)(22,-0.1)(26,0)(30,-0.3)(34,-0.4)(38,-0.6)(42,-0.8)(45,-0.6)(48,-0.3)(52,0)(56,0.2)(60,-0.1)(63,-0.4)(67,-0.3)(70,-0.15)(74,-0.2)(78,-0.1)(82,0)(86,0.1)(90,0.2)(95,0.3)(99,0.3)};
\addplot[C8] coordinates {(0,0)(3,-0.2)(6,-0.5)(8,-0.8)(10,-1.1)(12,-0.8)(15,-0.6)(20,-0.5)(24,-0.3)(28,-0.25)(32,-0.3)(36,-0.4)(40,-0.5)(44,-0.6)(47,-0.5)(50,-0.2)(53,0.4)(55,0.9)(56,5)(57,0.5)(60,0.9)(65,0.8)(70,0.7)(74,0.75)(77,0.95)(78,5)(79,0.2)(81,0.5)(83,0.95)(84,5)(85,0.4)(88,0.3)(92,0.4)(95,0.1)(97,-0.55)(99,-0.6)};
\addplot[C9] coordinates {(0,0)(3,0.3)(6,0.6)(8,0.9)(9,5)(10,0.3)(12,0.9)(13,5)(14,0.4)(16,0.5)(20,0.7)(23,0.9)(24,5)(25,0.5)(28,0.8)(30,0.9)(31,5)(32,0.2)(35,0.3)(40,0.2)(45,0.1)(50,-0.2)(55,-0.6)(58,-0.9)(62,-1.05)(66,-1.05)(70,-0.9)(74,-0.6)(77,-0.2)(80,0.2)(85,0.3)(90,0.5)(95,0.7)(99,0.7)};
\end{axis}

% ---------------- row 3, panel 5 ----------------
\begin{axis}[panel, at={(885.6pt,185.76pt)}]
\addplot[C0] coordinates {(0,0)(3,0.2)(6,0.6)(9,0.5)(12,0.6)(15,0.5)(19,0.55)(23,0.6)(26,0.8)(29,0.9)(33,0.95)(35,0.9)(38,0.5)(41,0.2)(44,-0.1)(47,-0.3)(50,-0.5)(53,-0.7)(56,-0.85)(59,-1.0)(62,-1.1)(65,-1.0)(68,-0.8)(71,-0.7)(74,-0.45)(78,-0.3)(82,0.1)(85,-0.1)(88,-0.4)(91,-0.7)(95,-1.0)(99,-1.25)};
\addplot[C1] coordinates {(0,0)(3,0.1)(7,0.3)(12,0.5)(17,0.5)(21,0.4)(24,-0.3)(27,-0.8)(30,-1.05)(33,-1.0)(36,-0.6)(39,0)(42,0.5)(46,0.4)(49,0.1)(53,0.2)(57,0.3)(60,0.5)(63,0.8)(64,0.95)(65,5)(66,0.6)(70,0.8)(72,0.95)(73,5)(74,0.3)(77,0.6)(82,0.9)(85,0.95)(90,0.8)(95,0.7)(99,0.6)};
\addplot[C2] coordinates {(0,0)(3,0.1)(6,0.2)(9,0.2)(12,0.1)(15,0)(18,-0.1)(21,-0.5)(24,-0.6)(27,-0.4)(30,-0.2)(33,0)(36,-0.2)(39,-0.5)(42,-0.7)(45,-0.75)(48,-0.8)(51,-0.6)(55,-0.3)(58,0.1)(62,0.4)(65,0.6)(70,0.7)(73,0.75)(76,0.3)(79,0)(82,-0.3)(85,-0.4)(88,-0.6)(91,-0.9)(94,-1.1)(97,-1.4)(99,-1.6)};
\addplot[C3] coordinates {(0,0)(3,-0.2)(6,-0.4)(9,-0.6)(12,-0.65)(15,-0.8)(18,-0.9)(21,-0.85)(24,-0.75)(27,-0.6)(30,-0.5)(33,-0.4)(36,-0.5)(40,-0.6)(44,-0.7)(48,-0.65)(51,-0.5)(54,-0.8)(57,-1.1)(60,-1.2)(63,-1.25)(66,-1.2)(70,-1.4)(74,-1.6)(78,-1.8)(82,-2.0)(85,-2.2)(88,-2.35)(91,-2.3)(94,-2.3)(96,-2.5)(99,-2.45)};
\addplot[C4] coordinates {(0,0)(3,0.1)(6,0.2)(10,0.1)(14,0.3)(18,0.8)(21,0.9)(24,0.8)(27,0.9)(28,5)(29,0.3)(32,0.6)(37,0.8)(41,0.6)(44,0.7)(46,0.95)(47,5)(48,0.4)(50,0.5)(53,0.6)(56,0.4)(60,0.2)(63,-0.1)(66,-0.2)(70,-0.5)(74,-1.0)(77,-1.4)(80,-1.5)(83,-1.4)(86,-1.3)(89,-1.2)(93,-1.1)(96,-1.2)(99,-1.25)};
\addplot[C5] coordinates {(0,0)(3,0.1)(6,0.3)(9,0.5)(12,0.8)(14,0.9)(15,5)(16,0.2)(19,0.5)(22,0.8)(23,5)(24,0.4)(27,0.6)(32,0.8)(35,0.9)(36,5)(37,0.4)(40,0.9)(41,5)(42,0.4)(46,0.8)(47,5)(48,0.3)(50,0.5)(55,0.5)(60,0.3)(63,0.1)(66,0.1)(70,0.2)(75,0.4)(80,0.5)(85,0.6)(90,0.8)(95,0.9)(98,1.0)(99,5)};
\addplot[C6] coordinates {(0,0)(3,0.1)(6,0.2)(9,0.1)(12,-0.2)(14,-0.5)(16,-0.9)(18,-1.5)(21,-2.0)(24,-2.3)(28,-2.45)(32,-2.4)(35,-2.3)(38,-2.1)(42,-1.9)(45,-1.7)(49,-1.65)(52,-1.55)(56,-1.6)(59,-1.9)(62,-2.05)(66,-2.0)(70,-1.9)(73,-1.7)(76,-1.6)(79,-1.8)(82,-2.1)(85,-2.2)(88,-2.0)(91,-1.85)(94,-1.9)(97,-1.6)(99,-1.5)};
\addplot[C7] coordinates {(0,0)(3,-0.1)(6,-0.2)(9,-0.4)(12,-0.7)(14,-0.95)(18,-0.9)(21,-0.7)(24,-0.9)(27,-1.25)(30,-1.2)(34,-1.05)(36,-0.9)(38,-0.5)(40,0)(44,0.3)(48,0.5)(52,0.5)(55,0.4)(58,0.5)(61,0.7)(63,0.95)(64,5)(65,0.3)(70,0.6)(74,0.9)(75,5)(76,0.2)(80,0.4)(84,0.9)(85,5)(86,0)(88,0.3)(91,0.8)(93,1.0)(96,0.8)(99,0.35)};
\addplot[C8] coordinates {(0,0)(3,-0.1)(6,-0.2)(9,0)(12,0.05)(16,-0.1)(19,0.2)(22,0.5)(25,0.5)(28,0.3)(32,0.2)(35,0)(38,-0.4)(40,-0.8)(43,-1.15)(46,-1.1)(49,-1.6)(52,-1.9)(55,-2.1)(58,-1.8)(62,-1.2)(65,-0.6)(68,-0.5)(72,-0.9)(76,-1.4)(80,-2.0)(83,-2.3)(86,-2.35)(88,-2.75)(91,-2.7)(94,-2.1)(97,-2.05)(99,-1.5)};
\addplot[C9] coordinates {(0,0)(3,0.1)(6,0.2)(9,0.3)(12,0.2)(15,0.1)(18,0)(21,-0.3)(24,-0.2)(27,0)(30,0.1)(33,0.3)(36,0.1)(39,-0.4)(42,-0.9)(45,-1.3)(49,-1.7)(52,-1.8)(55,-1.7)(58,-1.4)(61,-1.4)(64,-1.6)(67,-1.3)(70,-0.8)(73,-0.4)(76,0)(79,0.3)(83,0.6)(86,0.8)(89,1.0)(92,0.8)(95,0.3)(97,0)(99,-0.05)};
\end{axis}

\end{tikzpicture}
\end{document}
